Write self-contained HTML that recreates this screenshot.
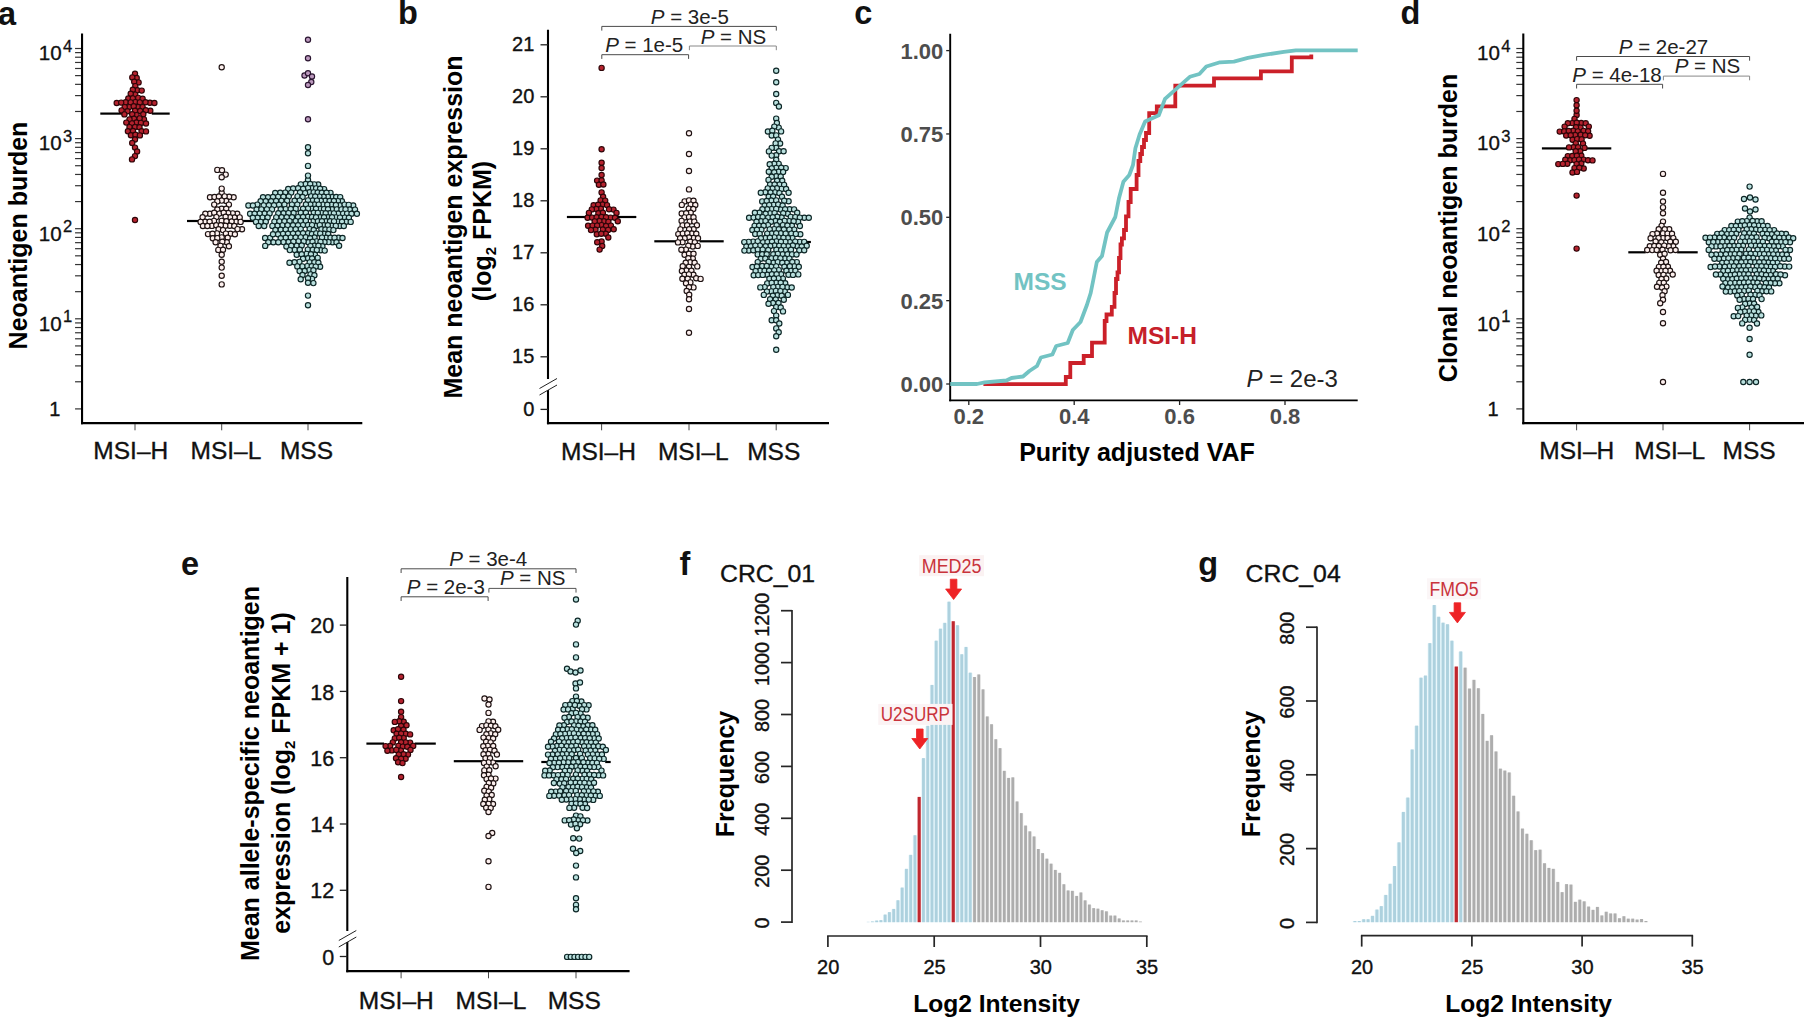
<!DOCTYPE html>
<html><head><meta charset="utf-8"><title>Figure</title>
<style>html,body{margin:0;padding:0;background:#fff}svg{display:block}</style></head>
<body>
<svg width="1804" height="1018" viewBox="0 0 1804 1018" font-family="&apos;Liberation Sans&apos;, sans-serif">
<rect width="1804" height="1018" fill="#fff"/>
<text x="-2.00" y="24.80" font-size="32.5" text-anchor="start" font-weight="bold" fill="#111" >a</text>
<text x="398.00" y="24.20" font-size="32.5" text-anchor="start" font-weight="bold" fill="#111" >b</text>
<text x="854.30" y="23.90" font-size="32.5" text-anchor="start" font-weight="bold" fill="#111" >c</text>
<text x="1400.50" y="23.70" font-size="32.5" text-anchor="start" font-weight="bold" fill="#111" >d</text>
<text x="181.00" y="575.40" font-size="32.5" text-anchor="start" font-weight="bold" fill="#111" >e</text>
<text x="679.60" y="574.90" font-size="32.5" text-anchor="start" font-weight="bold" fill="#111" >f</text>
<text x="1198.30" y="575.40" font-size="32.5" text-anchor="start" font-weight="bold" fill="#111" >g</text>
<line x1="75.05" y1="408.90" x2="82.05" y2="408.90" stroke="#333" stroke-width="1.2" stroke-linecap="butt"/>
<line x1="75.05" y1="381.78" x2="82.05" y2="381.78" stroke="#333" stroke-width="1.2" stroke-linecap="butt"/>
<line x1="75.05" y1="365.91" x2="82.05" y2="365.91" stroke="#333" stroke-width="1.2" stroke-linecap="butt"/>
<line x1="75.05" y1="354.65" x2="82.05" y2="354.65" stroke="#333" stroke-width="1.2" stroke-linecap="butt"/>
<line x1="75.05" y1="345.92" x2="82.05" y2="345.92" stroke="#333" stroke-width="1.2" stroke-linecap="butt"/>
<line x1="75.05" y1="338.79" x2="82.05" y2="338.79" stroke="#333" stroke-width="1.2" stroke-linecap="butt"/>
<line x1="75.05" y1="332.76" x2="82.05" y2="332.76" stroke="#333" stroke-width="1.2" stroke-linecap="butt"/>
<line x1="75.05" y1="327.53" x2="82.05" y2="327.53" stroke="#333" stroke-width="1.2" stroke-linecap="butt"/>
<line x1="75.05" y1="322.92" x2="82.05" y2="322.92" stroke="#333" stroke-width="1.2" stroke-linecap="butt"/>
<line x1="75.05" y1="318.80" x2="82.05" y2="318.80" stroke="#333" stroke-width="1.2" stroke-linecap="butt"/>
<line x1="75.05" y1="291.68" x2="82.05" y2="291.68" stroke="#333" stroke-width="1.2" stroke-linecap="butt"/>
<line x1="75.05" y1="275.81" x2="82.05" y2="275.81" stroke="#333" stroke-width="1.2" stroke-linecap="butt"/>
<line x1="75.05" y1="264.55" x2="82.05" y2="264.55" stroke="#333" stroke-width="1.2" stroke-linecap="butt"/>
<line x1="75.05" y1="255.82" x2="82.05" y2="255.82" stroke="#333" stroke-width="1.2" stroke-linecap="butt"/>
<line x1="75.05" y1="248.69" x2="82.05" y2="248.69" stroke="#333" stroke-width="1.2" stroke-linecap="butt"/>
<line x1="75.05" y1="242.66" x2="82.05" y2="242.66" stroke="#333" stroke-width="1.2" stroke-linecap="butt"/>
<line x1="75.05" y1="237.43" x2="82.05" y2="237.43" stroke="#333" stroke-width="1.2" stroke-linecap="butt"/>
<line x1="75.05" y1="232.82" x2="82.05" y2="232.82" stroke="#333" stroke-width="1.2" stroke-linecap="butt"/>
<line x1="75.05" y1="228.70" x2="82.05" y2="228.70" stroke="#333" stroke-width="1.2" stroke-linecap="butt"/>
<line x1="75.05" y1="201.58" x2="82.05" y2="201.58" stroke="#333" stroke-width="1.2" stroke-linecap="butt"/>
<line x1="75.05" y1="185.71" x2="82.05" y2="185.71" stroke="#333" stroke-width="1.2" stroke-linecap="butt"/>
<line x1="75.05" y1="174.45" x2="82.05" y2="174.45" stroke="#333" stroke-width="1.2" stroke-linecap="butt"/>
<line x1="75.05" y1="165.72" x2="82.05" y2="165.72" stroke="#333" stroke-width="1.2" stroke-linecap="butt"/>
<line x1="75.05" y1="158.59" x2="82.05" y2="158.59" stroke="#333" stroke-width="1.2" stroke-linecap="butt"/>
<line x1="75.05" y1="152.56" x2="82.05" y2="152.56" stroke="#333" stroke-width="1.2" stroke-linecap="butt"/>
<line x1="75.05" y1="147.33" x2="82.05" y2="147.33" stroke="#333" stroke-width="1.2" stroke-linecap="butt"/>
<line x1="75.05" y1="142.72" x2="82.05" y2="142.72" stroke="#333" stroke-width="1.2" stroke-linecap="butt"/>
<line x1="75.05" y1="138.60" x2="82.05" y2="138.60" stroke="#333" stroke-width="1.2" stroke-linecap="butt"/>
<line x1="75.05" y1="111.48" x2="82.05" y2="111.48" stroke="#333" stroke-width="1.2" stroke-linecap="butt"/>
<line x1="75.05" y1="95.61" x2="82.05" y2="95.61" stroke="#333" stroke-width="1.2" stroke-linecap="butt"/>
<line x1="75.05" y1="84.35" x2="82.05" y2="84.35" stroke="#333" stroke-width="1.2" stroke-linecap="butt"/>
<line x1="75.05" y1="75.62" x2="82.05" y2="75.62" stroke="#333" stroke-width="1.2" stroke-linecap="butt"/>
<line x1="75.05" y1="68.49" x2="82.05" y2="68.49" stroke="#333" stroke-width="1.2" stroke-linecap="butt"/>
<line x1="75.05" y1="62.46" x2="82.05" y2="62.46" stroke="#333" stroke-width="1.2" stroke-linecap="butt"/>
<line x1="75.05" y1="57.23" x2="82.05" y2="57.23" stroke="#333" stroke-width="1.2" stroke-linecap="butt"/>
<line x1="75.05" y1="52.62" x2="82.05" y2="52.62" stroke="#333" stroke-width="1.2" stroke-linecap="butt"/>
<line x1="75.05" y1="48.50" x2="82.05" y2="48.50" stroke="#333" stroke-width="1.2" stroke-linecap="butt"/>
<line x1="82.05" y1="33.50" x2="82.05" y2="424.30" stroke="#000" stroke-width="2.1" stroke-linecap="butt"/>
<line x1="81.00" y1="423.20" x2="362.30" y2="423.20" stroke="#000" stroke-width="2.2" stroke-linecap="butt"/>
<text x="60.30" y="416.10" font-size="20" text-anchor="end" stroke="#111" stroke-width="0.35" fill="#111" >1</text>
<text x="38.70" y="330.60" font-size="20.6" fill="#111" stroke="#111" stroke-width="0.3">10<tspan dy="-8.6" dx="1.3" font-size="16.6">1</tspan></text>
<text x="38.70" y="240.50" font-size="20.6" fill="#111" stroke="#111" stroke-width="0.3">10<tspan dy="-8.6" dx="1.3" font-size="16.6">2</tspan></text>
<text x="38.70" y="150.40" font-size="20.6" fill="#111" stroke="#111" stroke-width="0.3">10<tspan dy="-8.6" dx="1.3" font-size="16.6">3</tspan></text>
<text x="38.70" y="60.30" font-size="20.6" fill="#111" stroke="#111" stroke-width="0.3">10<tspan dy="-8.6" dx="1.3" font-size="16.6">4</tspan></text>
<line x1="135.00" y1="424.00" x2="135.00" y2="430.30" stroke="#333" stroke-width="0.9" stroke-linecap="butt"/>
<line x1="221.70" y1="424.00" x2="221.70" y2="430.30" stroke="#333" stroke-width="0.9" stroke-linecap="butt"/>
<line x1="308.00" y1="424.00" x2="308.00" y2="430.30" stroke="#333" stroke-width="0.9" stroke-linecap="butt"/>
<text x="130.80" y="459.30" font-size="24.5" text-anchor="middle" stroke="#111" stroke-width="0.35" fill="#111" >MSI–H</text>
<text x="225.90" y="459.30" font-size="24.5" text-anchor="middle" stroke="#111" stroke-width="0.35" fill="#111" >MSI–L</text>
<text x="306.50" y="459.30" font-size="24.5" text-anchor="middle" stroke="#111" stroke-width="0.35" fill="#111" >MSS</text>
<text x="26.70" y="235.50" font-size="25" text-anchor="middle" font-weight="bold" fill="#000" transform="rotate(-90 26.70 235.50)" >Neoantigen burden</text>
<line x1="100.3" y1="113.6" x2="122.9" y2="113.6" stroke="#000" stroke-width="2.2"/><line x1="151.8" y1="113.6" x2="169.7" y2="113.6" stroke="#000" stroke-width="2.2"/>
<line x1="187.0" y1="221.0" x2="199.1" y2="221.0" stroke="#000" stroke-width="2.2"/><line x1="242.1" y1="221.0" x2="256.4" y2="221.0" stroke="#000" stroke-width="2.2"/>

<g fill="#b5222e" stroke="#2e0508" stroke-width="1.15">
<circle cx="135.0" cy="73.8" r="2.62"/>
<circle cx="136.7" cy="78.0" r="2.62"/>
<circle cx="132.3" cy="77.4" r="2.62"/>
<circle cx="138.6" cy="82.4" r="2.62"/>
<circle cx="134.2" cy="81.7" r="2.62"/>
<circle cx="135.3" cy="86.1" r="2.62"/>
<circle cx="137.3" cy="90.2" r="2.62"/>
<circle cx="132.8" cy="89.8" r="2.62"/>
<circle cx="141.7" cy="90.6" r="2.62"/>
<circle cx="135.2" cy="94.6" r="2.62"/>
<circle cx="130.7" cy="93.8" r="2.62"/>
<circle cx="128.3" cy="98.5" r="2.62"/>
<circle cx="138.2" cy="97.9" r="2.62"/>
<circle cx="132.8" cy="98.4" r="2.62"/>
<circle cx="142.6" cy="98.8" r="2.62"/>
<circle cx="116.7" cy="103.0" r="2.62"/>
<circle cx="149.9" cy="102.8" r="2.62"/>
<circle cx="154.4" cy="103.0" r="2.62"/>
<circle cx="135.3" cy="102.1" r="2.62"/>
<circle cx="125.7" cy="102.2" r="2.62"/>
<circle cx="139.8" cy="102.4" r="2.62"/>
<circle cx="145.5" cy="102.3" r="2.62"/>
<circle cx="130.7" cy="102.4" r="2.62"/>
<circle cx="121.2" cy="102.6" r="2.62"/>
<circle cx="138.1" cy="107.0" r="2.62"/>
<circle cx="129.2" cy="107.1" r="2.62"/>
<circle cx="124.7" cy="107.1" r="2.62"/>
<circle cx="133.7" cy="106.2" r="2.62"/>
<circle cx="142.6" cy="107.1" r="2.62"/>
<circle cx="135.0" cy="110.8" r="2.62"/>
<circle cx="121.6" cy="110.4" r="2.62"/>
<circle cx="150.3" cy="110.8" r="2.62"/>
<circle cx="145.8" cy="110.2" r="2.62"/>
<circle cx="127.5" cy="111.2" r="2.62"/>
<circle cx="140.2" cy="111.0" r="2.62"/>
<circle cx="124.4" cy="114.4" r="2.62"/>
<circle cx="136.6" cy="115.1" r="2.62"/>
<circle cx="132.2" cy="114.3" r="2.62"/>
<circle cx="143.3" cy="114.3" r="2.62"/>
<circle cx="134.0" cy="118.7" r="2.62"/>
<circle cx="129.5" cy="119.4" r="2.62"/>
<circle cx="144.0" cy="119.4" r="2.62"/>
<circle cx="139.6" cy="118.4" r="2.62"/>
<circle cx="136.4" cy="122.5" r="2.62"/>
<circle cx="140.9" cy="122.9" r="2.62"/>
<circle cx="126.3" cy="122.6" r="2.62"/>
<circle cx="132.0" cy="123.4" r="2.62"/>
<circle cx="146.0" cy="123.5" r="2.62"/>
<circle cx="135.0" cy="127.0" r="2.62"/>
<circle cx="129.5" cy="127.1" r="2.62"/>
<circle cx="139.5" cy="127.2" r="2.62"/>
<circle cx="127.9" cy="131.3" r="2.62"/>
<circle cx="141.6" cy="131.2" r="2.62"/>
<circle cx="146.0" cy="131.4" r="2.62"/>
<circle cx="133.0" cy="131.0" r="2.62"/>
<circle cx="130.9" cy="135.3" r="2.62"/>
<circle cx="135.4" cy="134.8" r="2.62"/>
<circle cx="139.9" cy="135.4" r="2.62"/>
<circle cx="135.0" cy="139.5" r="2.62"/>
<circle cx="132.2" cy="143.0" r="2.62"/>
<circle cx="135.0" cy="147.6" r="2.62"/>
<circle cx="137.1" cy="151.5" r="2.62"/>
<circle cx="135.0" cy="156.1" r="2.62"/>
<circle cx="132.0" cy="159.4" r="2.62"/>
<circle cx="135.0" cy="220.0" r="2.62"/>
</g>
<g fill="#fdf0ee" stroke="#1e1212" stroke-width="1.15">
<circle cx="221.7" cy="193.0" r="2.62"/>
<circle cx="210.0" cy="197.3" r="2.62"/>
<circle cx="233.6" cy="197.3" r="2.62"/>
<circle cx="229.1" cy="196.8" r="2.62"/>
<circle cx="214.5" cy="197.0" r="2.62"/>
<circle cx="224.6" cy="196.4" r="2.62"/>
<circle cx="218.9" cy="196.5" r="2.62"/>
<circle cx="226.2" cy="201.0" r="2.62"/>
<circle cx="221.7" cy="200.6" r="2.62"/>
<circle cx="217.3" cy="201.4" r="2.62"/>
<circle cx="214.2" cy="204.6" r="2.62"/>
<circle cx="228.9" cy="204.6" r="2.62"/>
<circle cx="221.7" cy="208.7" r="2.62"/>
<circle cx="217.3" cy="209.5" r="2.62"/>
<circle cx="226.2" cy="208.8" r="2.62"/>
<circle cx="219.3" cy="213.6" r="2.62"/>
<circle cx="237.2" cy="213.7" r="2.62"/>
<circle cx="232.7" cy="213.4" r="2.62"/>
<circle cx="209.8" cy="213.7" r="2.62"/>
<circle cx="205.3" cy="213.7" r="2.62"/>
<circle cx="228.2" cy="213.0" r="2.62"/>
<circle cx="214.2" cy="212.8" r="2.62"/>
<circle cx="223.7" cy="212.7" r="2.62"/>
<circle cx="239.7" cy="217.4" r="2.62"/>
<circle cx="234.5" cy="217.5" r="2.62"/>
<circle cx="216.4" cy="217.1" r="2.62"/>
<circle cx="230.0" cy="217.3" r="2.62"/>
<circle cx="202.6" cy="217.3" r="2.62"/>
<circle cx="225.6" cy="216.8" r="2.62"/>
<circle cx="221.7" cy="220.9" r="2.62"/>
<circle cx="205.1" cy="221.8" r="2.62"/>
<circle cx="236.1" cy="221.7" r="2.62"/>
<circle cx="231.6" cy="221.5" r="2.62"/>
<circle cx="214.0" cy="220.9" r="2.62"/>
<circle cx="200.6" cy="221.9" r="2.62"/>
<circle cx="209.6" cy="221.7" r="2.62"/>
<circle cx="240.6" cy="221.9" r="2.62"/>
<circle cx="226.4" cy="221.2" r="2.62"/>
<circle cx="229.8" cy="225.8" r="2.62"/>
<circle cx="225.3" cy="225.8" r="2.62"/>
<circle cx="211.9" cy="225.9" r="2.62"/>
<circle cx="202.9" cy="226.0" r="2.62"/>
<circle cx="216.3" cy="225.3" r="2.62"/>
<circle cx="234.3" cy="226.0" r="2.62"/>
<circle cx="207.4" cy="226.0" r="2.62"/>
<circle cx="220.8" cy="225.3" r="2.62"/>
<circle cx="242.0" cy="229.2" r="2.62"/>
<circle cx="218.6" cy="229.2" r="2.62"/>
<circle cx="223.0" cy="230.1" r="2.62"/>
<circle cx="237.5" cy="229.1" r="2.62"/>
<circle cx="230.4" cy="233.7" r="2.62"/>
<circle cx="217.0" cy="233.4" r="2.62"/>
<circle cx="208.0" cy="234.1" r="2.62"/>
<circle cx="225.9" cy="233.6" r="2.62"/>
<circle cx="234.9" cy="234.2" r="2.62"/>
<circle cx="212.5" cy="233.7" r="2.62"/>
<circle cx="221.7" cy="237.4" r="2.62"/>
<circle cx="212.8" cy="238.3" r="2.62"/>
<circle cx="217.3" cy="238.1" r="2.62"/>
<circle cx="227.7" cy="237.7" r="2.62"/>
<circle cx="226.8" cy="242.3" r="2.62"/>
<circle cx="222.3" cy="241.8" r="2.62"/>
<circle cx="215.6" cy="242.3" r="2.62"/>
<circle cx="220.5" cy="245.9" r="2.62"/>
<circle cx="228.9" cy="246.3" r="2.62"/>
<circle cx="218.3" cy="249.9" r="2.62"/>
<circle cx="223.0" cy="249.7" r="2.62"/>
<circle cx="221.7" cy="254.7" r="2.62"/>
<circle cx="221.7" cy="67.2" r="2.62"/>
<circle cx="217.3" cy="169.9" r="2.62"/>
<circle cx="222.0" cy="170.3" r="2.62"/>
<circle cx="225.7" cy="174.6" r="2.62"/>
<circle cx="221.7" cy="177.2" r="2.62"/>
<circle cx="221.7" cy="188.6" r="2.62"/>
<circle cx="221.7" cy="261.7" r="2.62"/>
<circle cx="221.7" cy="267.6" r="2.62"/>
<circle cx="221.7" cy="275.8" r="2.62"/>
<circle cx="221.7" cy="284.4" r="2.62"/>
</g>
<g fill="#b9e0de" stroke="#0d2626" stroke-width="1.15">
<circle cx="308.0" cy="180.0" r="2.62"/>
<circle cx="305.7" cy="184.0" r="2.62"/>
<circle cx="300.8" cy="184.4" r="2.62"/>
<circle cx="318.2" cy="184.5" r="2.62"/>
<circle cx="314.2" cy="184.4" r="2.62"/>
<circle cx="310.2" cy="184.0" r="2.62"/>
<circle cx="288.2" cy="189.0" r="2.62"/>
<circle cx="312.0" cy="188.3" r="2.62"/>
<circle cx="324.1" cy="189.1" r="2.62"/>
<circle cx="293.1" cy="188.5" r="2.62"/>
<circle cx="308.0" cy="188.1" r="2.62"/>
<circle cx="316.1" cy="188.4" r="2.62"/>
<circle cx="298.1" cy="188.2" r="2.62"/>
<circle cx="303.1" cy="188.9" r="2.62"/>
<circle cx="320.1" cy="188.7" r="2.62"/>
<circle cx="285.2" cy="192.6" r="2.62"/>
<circle cx="309.6" cy="192.2" r="2.62"/>
<circle cx="313.7" cy="192.4" r="2.62"/>
<circle cx="291.2" cy="192.6" r="2.62"/>
<circle cx="280.2" cy="192.8" r="2.62"/>
<circle cx="317.7" cy="192.5" r="2.62"/>
<circle cx="330.5" cy="192.9" r="2.62"/>
<circle cx="321.8" cy="192.8" r="2.62"/>
<circle cx="305.1" cy="193.1" r="2.62"/>
<circle cx="300.0" cy="192.5" r="2.62"/>
<circle cx="297.5" cy="196.4" r="2.62"/>
<circle cx="275.2" cy="193.0" r="2.62"/>
<circle cx="326.5" cy="192.7" r="2.62"/>
<circle cx="332.2" cy="197.0" r="2.62"/>
<circle cx="327.9" cy="196.9" r="2.62"/>
<circle cx="288.8" cy="196.6" r="2.62"/>
<circle cx="278.1" cy="196.9" r="2.62"/>
<circle cx="323.6" cy="196.8" r="2.62"/>
<circle cx="268.0" cy="197.3" r="2.62"/>
<circle cx="302.6" cy="197.0" r="2.62"/>
<circle cx="273.0" cy="197.0" r="2.62"/>
<circle cx="263.0" cy="197.3" r="2.62"/>
<circle cx="319.4" cy="196.6" r="2.62"/>
<circle cx="336.2" cy="197.0" r="2.62"/>
<circle cx="283.4" cy="196.8" r="2.62"/>
<circle cx="311.1" cy="196.4" r="2.62"/>
<circle cx="340.2" cy="197.1" r="2.62"/>
<circle cx="315.2" cy="196.5" r="2.62"/>
<circle cx="265.7" cy="201.3" r="2.62"/>
<circle cx="325.3" cy="200.8" r="2.62"/>
<circle cx="341.9" cy="201.3" r="2.62"/>
<circle cx="271.1" cy="201.3" r="2.62"/>
<circle cx="320.8" cy="200.8" r="2.62"/>
<circle cx="260.6" cy="201.3" r="2.62"/>
<circle cx="312.7" cy="200.5" r="2.62"/>
<circle cx="299.6" cy="200.6" r="2.62"/>
<circle cx="281.4" cy="200.9" r="2.62"/>
<circle cx="316.9" cy="200.6" r="2.62"/>
<circle cx="287.1" cy="200.8" r="2.62"/>
<circle cx="329.6" cy="201.0" r="2.62"/>
<circle cx="337.9" cy="201.1" r="2.62"/>
<circle cx="276.1" cy="201.0" r="2.62"/>
<circle cx="308.0" cy="200.4" r="2.62"/>
<circle cx="268.9" cy="205.3" r="2.62"/>
<circle cx="339.8" cy="205.3" r="2.62"/>
<circle cx="294.6" cy="200.8" r="2.62"/>
<circle cx="333.9" cy="201.0" r="2.62"/>
<circle cx="314.5" cy="204.5" r="2.62"/>
<circle cx="257.3" cy="204.6" r="2.62"/>
<circle cx="310.3" cy="204.5" r="2.62"/>
<circle cx="344.6" cy="204.6" r="2.62"/>
<circle cx="331.6" cy="204.8" r="2.62"/>
<circle cx="263.7" cy="205.4" r="2.62"/>
<circle cx="284.4" cy="204.6" r="2.62"/>
<circle cx="279.0" cy="204.8" r="2.62"/>
<circle cx="323.0" cy="204.6" r="2.62"/>
<circle cx="248.4" cy="205.5" r="2.62"/>
<circle cx="335.9" cy="205.0" r="2.62"/>
<circle cx="291.9" cy="204.6" r="2.62"/>
<circle cx="327.3" cy="204.7" r="2.62"/>
<circle cx="318.7" cy="204.6" r="2.62"/>
<circle cx="252.9" cy="205.5" r="2.62"/>
<circle cx="297.3" cy="204.6" r="2.62"/>
<circle cx="305.9" cy="204.5" r="2.62"/>
<circle cx="353.2" cy="205.5" r="2.62"/>
<circle cx="332.1" cy="209.3" r="2.62"/>
<circle cx="348.7" cy="204.9" r="2.62"/>
<circle cx="274.0" cy="205.3" r="2.62"/>
<circle cx="272.0" cy="209.4" r="2.62"/>
<circle cx="312.0" cy="208.8" r="2.62"/>
<circle cx="256.6" cy="209.6" r="2.62"/>
<circle cx="261.4" cy="209.4" r="2.62"/>
<circle cx="336.8" cy="209.4" r="2.62"/>
<circle cx="285.7" cy="209.1" r="2.62"/>
<circle cx="308.0" cy="208.6" r="2.62"/>
<circle cx="295.7" cy="208.9" r="2.62"/>
<circle cx="280.7" cy="209.3" r="2.62"/>
<circle cx="290.7" cy="209.0" r="2.62"/>
<circle cx="355.0" cy="209.6" r="2.62"/>
<circle cx="320.0" cy="209.0" r="2.62"/>
<circle cx="316.0" cy="208.8" r="2.62"/>
<circle cx="303.0" cy="208.8" r="2.62"/>
<circle cx="349.7" cy="209.5" r="2.62"/>
<circle cx="324.0" cy="209.1" r="2.62"/>
<circle cx="266.9" cy="209.4" r="2.62"/>
<circle cx="328.0" cy="209.3" r="2.62"/>
<circle cx="338.3" cy="213.5" r="2.62"/>
<circle cx="283.5" cy="213.2" r="2.62"/>
<circle cx="341.5" cy="209.4" r="2.62"/>
<circle cx="345.5" cy="209.4" r="2.62"/>
<circle cx="321.8" cy="213.1" r="2.62"/>
<circle cx="356.9" cy="213.7" r="2.62"/>
<circle cx="313.8" cy="212.8" r="2.62"/>
<circle cx="300.8" cy="212.8" r="2.62"/>
<circle cx="264.6" cy="213.5" r="2.62"/>
<circle cx="343.1" cy="213.6" r="2.62"/>
<circle cx="269.6" cy="213.4" r="2.62"/>
<circle cx="329.9" cy="213.3" r="2.62"/>
<circle cx="305.9" cy="212.7" r="2.62"/>
<circle cx="333.9" cy="213.4" r="2.62"/>
<circle cx="250.1" cy="213.7" r="2.62"/>
<circle cx="259.6" cy="213.6" r="2.62"/>
<circle cx="317.8" cy="212.9" r="2.62"/>
<circle cx="293.6" cy="213.0" r="2.62"/>
<circle cx="278.3" cy="213.3" r="2.62"/>
<circle cx="288.5" cy="213.1" r="2.62"/>
<circle cx="254.6" cy="213.7" r="2.62"/>
<circle cx="325.7" cy="213.2" r="2.62"/>
<circle cx="347.1" cy="213.6" r="2.62"/>
<circle cx="351.5" cy="213.7" r="2.62"/>
<circle cx="281.6" cy="217.3" r="2.62"/>
<circle cx="308.0" cy="216.8" r="2.62"/>
<circle cx="312.0" cy="217.0" r="2.62"/>
<circle cx="344.8" cy="217.6" r="2.62"/>
<circle cx="320.0" cy="217.3" r="2.62"/>
<circle cx="276.2" cy="217.4" r="2.62"/>
<circle cx="328.0" cy="217.3" r="2.62"/>
<circle cx="262.5" cy="217.6" r="2.62"/>
<circle cx="336.0" cy="217.4" r="2.62"/>
<circle cx="298.0" cy="217.1" r="2.62"/>
<circle cx="324.0" cy="217.3" r="2.62"/>
<circle cx="340.0" cy="217.6" r="2.62"/>
<circle cx="292.0" cy="217.2" r="2.62"/>
<circle cx="286.7" cy="217.3" r="2.62"/>
<circle cx="267.6" cy="217.5" r="2.62"/>
<circle cx="332.0" cy="217.3" r="2.62"/>
<circle cx="348.9" cy="217.8" r="2.62"/>
<circle cx="257.5" cy="217.7" r="2.62"/>
<circle cx="295.7" cy="221.1" r="2.62"/>
<circle cx="252.8" cy="217.8" r="2.62"/>
<circle cx="313.7" cy="221.0" r="2.62"/>
<circle cx="316.0" cy="217.2" r="2.62"/>
<circle cx="303.0" cy="217.0" r="2.62"/>
<circle cx="274.4" cy="221.6" r="2.62"/>
<circle cx="346.2" cy="221.8" r="2.62"/>
<circle cx="338.0" cy="221.6" r="2.62"/>
<circle cx="300.7" cy="221.0" r="2.62"/>
<circle cx="350.7" cy="221.9" r="2.62"/>
<circle cx="260.8" cy="221.9" r="2.62"/>
<circle cx="279.4" cy="221.4" r="2.62"/>
<circle cx="342.0" cy="221.8" r="2.62"/>
<circle cx="284.5" cy="221.3" r="2.62"/>
<circle cx="326.0" cy="221.2" r="2.62"/>
<circle cx="317.9" cy="221.2" r="2.62"/>
<circle cx="305.9" cy="220.9" r="2.62"/>
<circle cx="330.0" cy="221.3" r="2.62"/>
<circle cx="321.9" cy="221.2" r="2.62"/>
<circle cx="334.0" cy="221.4" r="2.62"/>
<circle cx="256.0" cy="221.9" r="2.62"/>
<circle cx="315.9" cy="226.0" r="2.62"/>
<circle cx="289.6" cy="221.1" r="2.62"/>
<circle cx="265.8" cy="221.7" r="2.62"/>
<circle cx="303.0" cy="225.1" r="2.62"/>
<circle cx="339.8" cy="226.0" r="2.62"/>
<circle cx="323.8" cy="225.2" r="2.62"/>
<circle cx="343.8" cy="226.0" r="2.62"/>
<circle cx="331.8" cy="225.7" r="2.62"/>
<circle cx="308.0" cy="225.0" r="2.62"/>
<circle cx="282.4" cy="225.4" r="2.62"/>
<circle cx="258.7" cy="226.0" r="2.62"/>
<circle cx="277.4" cy="225.8" r="2.62"/>
<circle cx="272.4" cy="225.9" r="2.62"/>
<circle cx="335.8" cy="225.9" r="2.62"/>
<circle cx="327.8" cy="225.3" r="2.62"/>
<circle cx="264.2" cy="226.0" r="2.62"/>
<circle cx="312.0" cy="225.1" r="2.62"/>
<circle cx="293.0" cy="225.2" r="2.62"/>
<circle cx="319.8" cy="225.1" r="2.62"/>
<circle cx="298.0" cy="225.2" r="2.62"/>
<circle cx="287.6" cy="225.3" r="2.62"/>
<circle cx="290.7" cy="229.4" r="2.62"/>
<circle cx="321.4" cy="229.2" r="2.62"/>
<circle cx="300.7" cy="229.1" r="2.62"/>
<circle cx="309.7" cy="229.1" r="2.62"/>
<circle cx="280.7" cy="229.7" r="2.62"/>
<circle cx="285.7" cy="229.6" r="2.62"/>
<circle cx="295.7" cy="229.2" r="2.62"/>
<circle cx="325.4" cy="229.5" r="2.62"/>
<circle cx="275.4" cy="230.0" r="2.62"/>
<circle cx="329.4" cy="229.6" r="2.62"/>
<circle cx="333.4" cy="230.1" r="2.62"/>
<circle cx="313.7" cy="230.0" r="2.62"/>
<circle cx="324.2" cy="233.8" r="2.62"/>
<circle cx="298.0" cy="233.5" r="2.62"/>
<circle cx="308.0" cy="233.3" r="2.62"/>
<circle cx="328.2" cy="234.0" r="2.62"/>
<circle cx="303.0" cy="233.3" r="2.62"/>
<circle cx="311.9" cy="234.1" r="2.62"/>
<circle cx="283.0" cy="233.9" r="2.62"/>
<circle cx="316.2" cy="233.4" r="2.62"/>
<circle cx="288.0" cy="233.7" r="2.62"/>
<circle cx="293.0" cy="233.6" r="2.62"/>
<circle cx="278.0" cy="234.2" r="2.62"/>
<circle cx="270.1" cy="237.9" r="2.62"/>
<circle cx="273.0" cy="234.2" r="2.62"/>
<circle cx="290.7" cy="237.6" r="2.62"/>
<circle cx="320.2" cy="233.6" r="2.62"/>
<circle cx="285.7" cy="237.8" r="2.62"/>
<circle cx="326.1" cy="237.8" r="2.62"/>
<circle cx="295.7" cy="237.5" r="2.62"/>
<circle cx="330.5" cy="237.7" r="2.62"/>
<circle cx="305.7" cy="237.3" r="2.62"/>
<circle cx="314.5" cy="237.5" r="2.62"/>
<circle cx="338.5" cy="237.8" r="2.62"/>
<circle cx="265.1" cy="238.0" r="2.62"/>
<circle cx="280.7" cy="238.2" r="2.62"/>
<circle cx="322.0" cy="237.6" r="2.62"/>
<circle cx="300.7" cy="237.4" r="2.62"/>
<circle cx="342.5" cy="238.0" r="2.62"/>
<circle cx="310.1" cy="238.2" r="2.62"/>
<circle cx="288.4" cy="242.0" r="2.62"/>
<circle cx="332.5" cy="242.2" r="2.62"/>
<circle cx="334.5" cy="237.8" r="2.62"/>
<circle cx="273.3" cy="242.3" r="2.62"/>
<circle cx="308.4" cy="242.3" r="2.62"/>
<circle cx="268.3" cy="242.3" r="2.62"/>
<circle cx="328.5" cy="242.1" r="2.62"/>
<circle cx="316.6" cy="241.4" r="2.62"/>
<circle cx="312.5" cy="241.7" r="2.62"/>
<circle cx="336.5" cy="242.3" r="2.62"/>
<circle cx="324.5" cy="242.0" r="2.62"/>
<circle cx="283.4" cy="242.1" r="2.62"/>
<circle cx="303.6" cy="241.4" r="2.62"/>
<circle cx="278.3" cy="242.2" r="2.62"/>
<circle cx="320.5" cy="241.9" r="2.62"/>
<circle cx="298.4" cy="241.4" r="2.62"/>
<circle cx="296.7" cy="245.7" r="2.62"/>
<circle cx="293.4" cy="241.6" r="2.62"/>
<circle cx="314.4" cy="245.7" r="2.62"/>
<circle cx="286.4" cy="246.5" r="2.62"/>
<circle cx="265.2" cy="245.9" r="2.62"/>
<circle cx="322.4" cy="246.2" r="2.62"/>
<circle cx="310.4" cy="246.1" r="2.62"/>
<circle cx="301.7" cy="245.5" r="2.62"/>
<circle cx="291.3" cy="245.7" r="2.62"/>
<circle cx="318.4" cy="245.8" r="2.62"/>
<circle cx="307.8" cy="249.6" r="2.62"/>
<circle cx="339.1" cy="245.7" r="2.62"/>
<circle cx="320.7" cy="250.3" r="2.62"/>
<circle cx="294.8" cy="249.9" r="2.62"/>
<circle cx="289.8" cy="250.1" r="2.62"/>
<circle cx="299.8" cy="249.7" r="2.62"/>
<circle cx="312.8" cy="249.8" r="2.62"/>
<circle cx="324.7" cy="250.6" r="2.62"/>
<circle cx="316.8" cy="250.1" r="2.62"/>
<circle cx="296.7" cy="254.7" r="2.62"/>
<circle cx="306.6" cy="253.9" r="2.62"/>
<circle cx="314.9" cy="254.7" r="2.62"/>
<circle cx="301.7" cy="254.3" r="2.62"/>
<circle cx="310.9" cy="254.2" r="2.62"/>
<circle cx="317.7" cy="257.9" r="2.62"/>
<circle cx="308.0" cy="258.3" r="2.62"/>
<circle cx="312.1" cy="258.5" r="2.62"/>
<circle cx="303.0" cy="258.7" r="2.62"/>
<circle cx="299.4" cy="261.9" r="2.62"/>
<circle cx="309.7" cy="262.4" r="2.62"/>
<circle cx="314.4" cy="262.2" r="2.62"/>
<circle cx="294.5" cy="262.2" r="2.62"/>
<circle cx="289.5" cy="262.8" r="2.62"/>
<circle cx="318.4" cy="262.7" r="2.62"/>
<circle cx="307.2" cy="266.1" r="2.62"/>
<circle cx="320.1" cy="266.7" r="2.62"/>
<circle cx="311.7" cy="266.3" r="2.62"/>
<circle cx="302.3" cy="266.4" r="2.62"/>
<circle cx="315.7" cy="266.6" r="2.62"/>
<circle cx="297.3" cy="266.4" r="2.62"/>
<circle cx="309.2" cy="270.1" r="2.62"/>
<circle cx="304.6" cy="271.0" r="2.62"/>
<circle cx="299.6" cy="271.1" r="2.62"/>
<circle cx="313.4" cy="270.3" r="2.62"/>
<circle cx="310.5" cy="274.4" r="2.62"/>
<circle cx="314.4" cy="275.2" r="2.62"/>
<circle cx="302.5" cy="275.0" r="2.62"/>
<circle cx="300.7" cy="279.3" r="2.62"/>
<circle cx="312.0" cy="278.9" r="2.62"/>
<circle cx="308.0" cy="278.3" r="2.62"/>
<circle cx="308.0" cy="282.8" r="2.62"/>
<circle cx="313.4" cy="283.1" r="2.62"/>
<circle cx="308.0" cy="147.3" r="2.62"/>
<circle cx="308.0" cy="153.2" r="2.62"/>
<circle cx="308.0" cy="165.9" r="2.62"/>
<circle cx="308.0" cy="175.6" r="2.62"/>
<circle cx="308.0" cy="295.6" r="2.62"/>
<circle cx="308.0" cy="305.3" r="2.62"/>
</g>
<g fill="#bb98bd" stroke="#2a1530" stroke-width="1.15">
<circle cx="308.0" cy="39.7" r="2.62"/>
<circle cx="308.0" cy="58.3" r="2.62"/>
<circle cx="304.5" cy="75.5" r="2.62"/>
<circle cx="308.0" cy="73.3" r="2.62"/>
<circle cx="312.0" cy="76.5" r="2.62"/>
<circle cx="311.3" cy="82.0" r="2.62"/>
<circle cx="308.0" cy="85.0" r="2.62"/>
<circle cx="308.0" cy="119.3" r="2.62"/>
</g>
<line x1="1516.30" y1="408.90" x2="1523.30" y2="408.90" stroke="#333" stroke-width="1.2" stroke-linecap="butt"/>
<line x1="1516.30" y1="381.78" x2="1523.30" y2="381.78" stroke="#333" stroke-width="1.2" stroke-linecap="butt"/>
<line x1="1516.30" y1="365.91" x2="1523.30" y2="365.91" stroke="#333" stroke-width="1.2" stroke-linecap="butt"/>
<line x1="1516.30" y1="354.65" x2="1523.30" y2="354.65" stroke="#333" stroke-width="1.2" stroke-linecap="butt"/>
<line x1="1516.30" y1="345.92" x2="1523.30" y2="345.92" stroke="#333" stroke-width="1.2" stroke-linecap="butt"/>
<line x1="1516.30" y1="338.79" x2="1523.30" y2="338.79" stroke="#333" stroke-width="1.2" stroke-linecap="butt"/>
<line x1="1516.30" y1="332.76" x2="1523.30" y2="332.76" stroke="#333" stroke-width="1.2" stroke-linecap="butt"/>
<line x1="1516.30" y1="327.53" x2="1523.30" y2="327.53" stroke="#333" stroke-width="1.2" stroke-linecap="butt"/>
<line x1="1516.30" y1="322.92" x2="1523.30" y2="322.92" stroke="#333" stroke-width="1.2" stroke-linecap="butt"/>
<line x1="1516.30" y1="318.80" x2="1523.30" y2="318.80" stroke="#333" stroke-width="1.2" stroke-linecap="butt"/>
<line x1="1516.30" y1="291.68" x2="1523.30" y2="291.68" stroke="#333" stroke-width="1.2" stroke-linecap="butt"/>
<line x1="1516.30" y1="275.81" x2="1523.30" y2="275.81" stroke="#333" stroke-width="1.2" stroke-linecap="butt"/>
<line x1="1516.30" y1="264.55" x2="1523.30" y2="264.55" stroke="#333" stroke-width="1.2" stroke-linecap="butt"/>
<line x1="1516.30" y1="255.82" x2="1523.30" y2="255.82" stroke="#333" stroke-width="1.2" stroke-linecap="butt"/>
<line x1="1516.30" y1="248.69" x2="1523.30" y2="248.69" stroke="#333" stroke-width="1.2" stroke-linecap="butt"/>
<line x1="1516.30" y1="242.66" x2="1523.30" y2="242.66" stroke="#333" stroke-width="1.2" stroke-linecap="butt"/>
<line x1="1516.30" y1="237.43" x2="1523.30" y2="237.43" stroke="#333" stroke-width="1.2" stroke-linecap="butt"/>
<line x1="1516.30" y1="232.82" x2="1523.30" y2="232.82" stroke="#333" stroke-width="1.2" stroke-linecap="butt"/>
<line x1="1516.30" y1="228.70" x2="1523.30" y2="228.70" stroke="#333" stroke-width="1.2" stroke-linecap="butt"/>
<line x1="1516.30" y1="201.58" x2="1523.30" y2="201.58" stroke="#333" stroke-width="1.2" stroke-linecap="butt"/>
<line x1="1516.30" y1="185.71" x2="1523.30" y2="185.71" stroke="#333" stroke-width="1.2" stroke-linecap="butt"/>
<line x1="1516.30" y1="174.45" x2="1523.30" y2="174.45" stroke="#333" stroke-width="1.2" stroke-linecap="butt"/>
<line x1="1516.30" y1="165.72" x2="1523.30" y2="165.72" stroke="#333" stroke-width="1.2" stroke-linecap="butt"/>
<line x1="1516.30" y1="158.59" x2="1523.30" y2="158.59" stroke="#333" stroke-width="1.2" stroke-linecap="butt"/>
<line x1="1516.30" y1="152.56" x2="1523.30" y2="152.56" stroke="#333" stroke-width="1.2" stroke-linecap="butt"/>
<line x1="1516.30" y1="147.33" x2="1523.30" y2="147.33" stroke="#333" stroke-width="1.2" stroke-linecap="butt"/>
<line x1="1516.30" y1="142.72" x2="1523.30" y2="142.72" stroke="#333" stroke-width="1.2" stroke-linecap="butt"/>
<line x1="1516.30" y1="138.60" x2="1523.30" y2="138.60" stroke="#333" stroke-width="1.2" stroke-linecap="butt"/>
<line x1="1516.30" y1="111.48" x2="1523.30" y2="111.48" stroke="#333" stroke-width="1.2" stroke-linecap="butt"/>
<line x1="1516.30" y1="95.61" x2="1523.30" y2="95.61" stroke="#333" stroke-width="1.2" stroke-linecap="butt"/>
<line x1="1516.30" y1="84.35" x2="1523.30" y2="84.35" stroke="#333" stroke-width="1.2" stroke-linecap="butt"/>
<line x1="1516.30" y1="75.62" x2="1523.30" y2="75.62" stroke="#333" stroke-width="1.2" stroke-linecap="butt"/>
<line x1="1516.30" y1="68.49" x2="1523.30" y2="68.49" stroke="#333" stroke-width="1.2" stroke-linecap="butt"/>
<line x1="1516.30" y1="62.46" x2="1523.30" y2="62.46" stroke="#333" stroke-width="1.2" stroke-linecap="butt"/>
<line x1="1516.30" y1="57.23" x2="1523.30" y2="57.23" stroke="#333" stroke-width="1.2" stroke-linecap="butt"/>
<line x1="1516.30" y1="52.62" x2="1523.30" y2="52.62" stroke="#333" stroke-width="1.2" stroke-linecap="butt"/>
<line x1="1516.30" y1="48.50" x2="1523.30" y2="48.50" stroke="#333" stroke-width="1.2" stroke-linecap="butt"/>
<line x1="1523.30" y1="33.50" x2="1523.30" y2="424.30" stroke="#000" stroke-width="2.1" stroke-linecap="butt"/>
<line x1="1522.25" y1="423.20" x2="1804.00" y2="423.20" stroke="#000" stroke-width="2.2" stroke-linecap="butt"/>
<text x="1498.60" y="416.10" font-size="20" text-anchor="end" stroke="#111" stroke-width="0.35" fill="#111" >1</text>
<text x="1477.00" y="330.60" font-size="20.6" fill="#111" stroke="#111" stroke-width="0.3">10<tspan dy="-8.6" dx="1.3" font-size="16.6">1</tspan></text>
<text x="1477.00" y="240.50" font-size="20.6" fill="#111" stroke="#111" stroke-width="0.3">10<tspan dy="-8.6" dx="1.3" font-size="16.6">2</tspan></text>
<text x="1477.00" y="150.40" font-size="20.6" fill="#111" stroke="#111" stroke-width="0.3">10<tspan dy="-8.6" dx="1.3" font-size="16.6">3</tspan></text>
<text x="1477.00" y="60.30" font-size="20.6" fill="#111" stroke="#111" stroke-width="0.3">10<tspan dy="-8.6" dx="1.3" font-size="16.6">4</tspan></text>
<line x1="1576.60" y1="424.00" x2="1576.60" y2="430.30" stroke="#333" stroke-width="0.9" stroke-linecap="butt"/>
<line x1="1663.00" y1="424.00" x2="1663.00" y2="430.30" stroke="#333" stroke-width="0.9" stroke-linecap="butt"/>
<line x1="1749.60" y1="424.00" x2="1749.60" y2="430.30" stroke="#333" stroke-width="0.9" stroke-linecap="butt"/>
<text x="1576.80" y="459.40" font-size="24.5" text-anchor="middle" stroke="#111" stroke-width="0.35" fill="#111" >MSI–H</text>
<text x="1669.70" y="459.40" font-size="24.5" text-anchor="middle" stroke="#111" stroke-width="0.35" fill="#111" >MSI–L</text>
<text x="1749.10" y="459.40" font-size="24.5" text-anchor="middle" stroke="#111" stroke-width="0.35" fill="#111" >MSS</text>
<text x="1457.00" y="228.00" font-size="25" text-anchor="middle" font-weight="bold" fill="#000" transform="rotate(-90 1457.00 228.00)" >Clonal neoantigen burden</text>
<line x1="1541.9" y1="148.4" x2="1567.5" y2="148.4" stroke="#000" stroke-width="2.2"/><line x1="1586.0" y1="148.4" x2="1611.3" y2="148.4" stroke="#000" stroke-width="2.2"/>
<line x1="1628.3" y1="252.3" x2="1645.7" y2="252.3" stroke="#000" stroke-width="2.2"/><line x1="1677.1" y1="252.3" x2="1697.7" y2="252.3" stroke="#000" stroke-width="2.2"/>

<path d="M1576.6 60.7V56.5H1749.6V60.7" stroke="#4a4a4a" stroke-width="1.0" fill="none" />
<text x="1663.50" y="54.20" font-size="20.5" text-anchor="middle" fill="#222"><tspan font-style="italic">P</tspan> = 2e-27</text>
<path d="M1576.6 88.5V84.3H1662.6V88.5" stroke="#4a4a4a" stroke-width="1.0" fill="none" />
<text x="1617.00" y="82.00" font-size="20.5" text-anchor="middle" fill="#222"><tspan font-style="italic">P</tspan> = 4e-18</text>
<path d="M1663.4 80.3V76.1H1749.6V80.3" stroke="#888" stroke-width="1.0" fill="none" />
<text x="1707.50" y="73.00" font-size="20.5" text-anchor="middle" fill="#222"><tspan font-style="italic">P</tspan> = NS</text>
<g fill="#b5222e" stroke="#2e0508" stroke-width="1.15">
<circle cx="1576.6" cy="114.9" r="2.62"/>
<circle cx="1574.5" cy="118.9" r="2.62"/>
<circle cx="1572.2" cy="123.1" r="2.62"/>
<circle cx="1581.2" cy="123.0" r="2.62"/>
<circle cx="1585.7" cy="123.3" r="2.62"/>
<circle cx="1576.7" cy="122.8" r="2.62"/>
<circle cx="1567.8" cy="123.3" r="2.62"/>
<circle cx="1588.8" cy="126.6" r="2.62"/>
<circle cx="1580.5" cy="127.6" r="2.62"/>
<circle cx="1576.0" cy="127.2" r="2.62"/>
<circle cx="1564.6" cy="126.6" r="2.62"/>
<circle cx="1573.2" cy="130.7" r="2.62"/>
<circle cx="1583.6" cy="130.9" r="2.62"/>
<circle cx="1588.1" cy="131.2" r="2.62"/>
<circle cx="1559.7" cy="131.6" r="2.62"/>
<circle cx="1577.8" cy="131.4" r="2.62"/>
<circle cx="1564.2" cy="131.4" r="2.62"/>
<circle cx="1568.7" cy="131.0" r="2.62"/>
<circle cx="1589.6" cy="135.8" r="2.62"/>
<circle cx="1566.2" cy="135.5" r="2.62"/>
<circle cx="1575.2" cy="135.0" r="2.62"/>
<circle cx="1580.7" cy="134.8" r="2.62"/>
<circle cx="1585.2" cy="135.2" r="2.62"/>
<circle cx="1570.7" cy="135.2" r="2.62"/>
<circle cx="1572.6" cy="139.8" r="2.62"/>
<circle cx="1577.1" cy="139.1" r="2.62"/>
<circle cx="1581.6" cy="139.4" r="2.62"/>
<circle cx="1575.8" cy="143.4" r="2.62"/>
<circle cx="1583.0" cy="143.6" r="2.62"/>
<circle cx="1573.5" cy="147.3" r="2.62"/>
<circle cx="1569.0" cy="147.4" r="2.62"/>
<circle cx="1584.5" cy="147.9" r="2.62"/>
<circle cx="1578.0" cy="147.3" r="2.62"/>
<circle cx="1580.2" cy="151.2" r="2.62"/>
<circle cx="1575.7" cy="151.3" r="2.62"/>
<circle cx="1581.3" cy="155.7" r="2.62"/>
<circle cx="1567.8" cy="156.1" r="2.62"/>
<circle cx="1572.3" cy="156.0" r="2.62"/>
<circle cx="1576.8" cy="155.7" r="2.62"/>
<circle cx="1583.5" cy="159.6" r="2.62"/>
<circle cx="1570.0" cy="160.2" r="2.62"/>
<circle cx="1588.0" cy="160.3" r="2.62"/>
<circle cx="1565.3" cy="159.8" r="2.62"/>
<circle cx="1574.5" cy="160.1" r="2.62"/>
<circle cx="1592.5" cy="160.4" r="2.62"/>
<circle cx="1579.0" cy="159.6" r="2.62"/>
<circle cx="1567.3" cy="163.8" r="2.62"/>
<circle cx="1581.3" cy="163.5" r="2.62"/>
<circle cx="1576.6" cy="164.1" r="2.62"/>
<circle cx="1558.3" cy="164.1" r="2.62"/>
<circle cx="1562.8" cy="163.9" r="2.62"/>
<circle cx="1574.5" cy="168.1" r="2.62"/>
<circle cx="1583.7" cy="168.5" r="2.62"/>
<circle cx="1579.3" cy="167.7" r="2.62"/>
<circle cx="1572.5" cy="172.5" r="2.62"/>
<circle cx="1577.0" cy="171.9" r="2.62"/>
<circle cx="1576.6" cy="100.1" r="2.62"/>
<circle cx="1576.6" cy="105.3" r="2.62"/>
<circle cx="1576.6" cy="110.7" r="2.62"/>
<circle cx="1576.6" cy="195.6" r="2.62"/>
<circle cx="1576.6" cy="248.6" r="2.62"/>
</g>
<g fill="#fdf0ee" stroke="#1e1212" stroke-width="1.15">
<circle cx="1663.0" cy="221.6" r="2.62"/>
<circle cx="1661.6" cy="225.9" r="2.62"/>
<circle cx="1669.2" cy="229.3" r="2.62"/>
<circle cx="1658.7" cy="229.3" r="2.62"/>
<circle cx="1664.7" cy="229.2" r="2.62"/>
<circle cx="1663.0" cy="233.4" r="2.62"/>
<circle cx="1667.5" cy="233.6" r="2.62"/>
<circle cx="1672.0" cy="233.8" r="2.62"/>
<circle cx="1657.0" cy="233.5" r="2.62"/>
<circle cx="1652.5" cy="234.1" r="2.62"/>
<circle cx="1673.3" cy="238.1" r="2.62"/>
<circle cx="1663.0" cy="238.1" r="2.62"/>
<circle cx="1667.6" cy="238.1" r="2.62"/>
<circle cx="1650.6" cy="238.2" r="2.62"/>
<circle cx="1658.5" cy="238.1" r="2.62"/>
<circle cx="1670.2" cy="241.8" r="2.62"/>
<circle cx="1675.8" cy="241.8" r="2.62"/>
<circle cx="1655.6" cy="241.5" r="2.62"/>
<circle cx="1661.3" cy="242.2" r="2.62"/>
<circle cx="1673.2" cy="246.2" r="2.62"/>
<circle cx="1649.8" cy="246.3" r="2.62"/>
<circle cx="1668.7" cy="246.2" r="2.62"/>
<circle cx="1664.2" cy="245.6" r="2.62"/>
<circle cx="1654.3" cy="246.0" r="2.62"/>
<circle cx="1658.8" cy="246.0" r="2.62"/>
<circle cx="1647.2" cy="250.0" r="2.62"/>
<circle cx="1652.2" cy="250.1" r="2.62"/>
<circle cx="1662.5" cy="249.8" r="2.62"/>
<circle cx="1656.7" cy="250.0" r="2.62"/>
<circle cx="1670.6" cy="250.3" r="2.62"/>
<circle cx="1675.6" cy="250.0" r="2.62"/>
<circle cx="1660.2" cy="254.7" r="2.62"/>
<circle cx="1664.6" cy="253.8" r="2.62"/>
<circle cx="1663.0" cy="258.7" r="2.62"/>
<circle cx="1666.0" cy="262.0" r="2.62"/>
<circle cx="1661.2" cy="262.8" r="2.62"/>
<circle cx="1667.9" cy="266.8" r="2.62"/>
<circle cx="1658.9" cy="266.9" r="2.62"/>
<circle cx="1663.4" cy="266.7" r="2.62"/>
<circle cx="1661.1" cy="271.1" r="2.62"/>
<circle cx="1670.0" cy="270.8" r="2.62"/>
<circle cx="1656.6" cy="270.7" r="2.62"/>
<circle cx="1665.5" cy="270.7" r="2.62"/>
<circle cx="1658.7" cy="275.0" r="2.62"/>
<circle cx="1672.7" cy="274.5" r="2.62"/>
<circle cx="1663.5" cy="274.9" r="2.62"/>
<circle cx="1666.2" cy="278.5" r="2.62"/>
<circle cx="1661.5" cy="279.0" r="2.62"/>
<circle cx="1659.3" cy="282.9" r="2.62"/>
<circle cx="1663.8" cy="282.8" r="2.62"/>
<circle cx="1666.4" cy="286.6" r="2.62"/>
<circle cx="1662.0" cy="287.5" r="2.62"/>
<circle cx="1657.0" cy="286.8" r="2.62"/>
<circle cx="1664.6" cy="291.2" r="2.62"/>
<circle cx="1662.5" cy="295.2" r="2.62"/>
<circle cx="1663.0" cy="299.7" r="2.62"/>
<circle cx="1660.2" cy="303.2" r="2.62"/>
<circle cx="1663.0" cy="173.9" r="2.62"/>
<circle cx="1663.0" cy="192.8" r="2.62"/>
<circle cx="1663.0" cy="201.5" r="2.62"/>
<circle cx="1663.0" cy="207.4" r="2.62"/>
<circle cx="1663.0" cy="213.3" r="2.62"/>
<circle cx="1663.0" cy="312.0" r="2.62"/>
<circle cx="1663.0" cy="323.3" r="2.62"/>
<circle cx="1663.0" cy="382.0" r="2.62"/>
</g>
<g fill="#b9e0de" stroke="#0d2626" stroke-width="1.15">
<circle cx="1749.6" cy="217.6" r="2.62"/>
<circle cx="1757.1" cy="221.2" r="2.62"/>
<circle cx="1737.8" cy="221.6" r="2.62"/>
<circle cx="1752.6" cy="221.0" r="2.62"/>
<circle cx="1761.6" cy="221.3" r="2.62"/>
<circle cx="1746.8" cy="221.1" r="2.62"/>
<circle cx="1742.3" cy="221.2" r="2.62"/>
<circle cx="1767.6" cy="226.0" r="2.62"/>
<circle cx="1731.4" cy="226.0" r="2.62"/>
<circle cx="1740.4" cy="225.8" r="2.62"/>
<circle cx="1749.6" cy="225.1" r="2.62"/>
<circle cx="1758.6" cy="225.6" r="2.62"/>
<circle cx="1744.8" cy="225.2" r="2.62"/>
<circle cx="1763.1" cy="225.9" r="2.62"/>
<circle cx="1754.1" cy="225.3" r="2.62"/>
<circle cx="1735.9" cy="226.0" r="2.62"/>
<circle cx="1724.7" cy="230.1" r="2.62"/>
<circle cx="1765.1" cy="229.9" r="2.62"/>
<circle cx="1729.2" cy="230.1" r="2.62"/>
<circle cx="1755.8" cy="229.5" r="2.62"/>
<circle cx="1738.4" cy="229.9" r="2.62"/>
<circle cx="1774.1" cy="230.1" r="2.62"/>
<circle cx="1760.3" cy="229.9" r="2.62"/>
<circle cx="1751.2" cy="229.3" r="2.62"/>
<circle cx="1769.6" cy="230.1" r="2.62"/>
<circle cx="1746.7" cy="229.4" r="2.62"/>
<circle cx="1733.7" cy="229.9" r="2.62"/>
<circle cx="1736.2" cy="233.8" r="2.62"/>
<circle cx="1762.6" cy="233.8" r="2.62"/>
<circle cx="1717.2" cy="233.9" r="2.62"/>
<circle cx="1721.7" cy="233.5" r="2.62"/>
<circle cx="1727.1" cy="234.1" r="2.62"/>
<circle cx="1749.5" cy="233.4" r="2.62"/>
<circle cx="1786.0" cy="234.0" r="2.62"/>
<circle cx="1753.9" cy="233.7" r="2.62"/>
<circle cx="1781.5" cy="233.8" r="2.62"/>
<circle cx="1777.1" cy="233.5" r="2.62"/>
<circle cx="1771.6" cy="234.2" r="2.62"/>
<circle cx="1744.2" cy="233.2" r="2.62"/>
<circle cx="1731.6" cy="233.9" r="2.62"/>
<circle cx="1767.1" cy="234.0" r="2.62"/>
<circle cx="1783.8" cy="237.9" r="2.62"/>
<circle cx="1724.0" cy="237.5" r="2.62"/>
<circle cx="1774.8" cy="237.4" r="2.62"/>
<circle cx="1714.5" cy="237.5" r="2.62"/>
<circle cx="1719.6" cy="237.8" r="2.62"/>
<circle cx="1769.1" cy="238.3" r="2.62"/>
<circle cx="1747.1" cy="237.3" r="2.62"/>
<circle cx="1742.5" cy="237.4" r="2.62"/>
<circle cx="1729.6" cy="238.2" r="2.62"/>
<circle cx="1705.5" cy="237.7" r="2.62"/>
<circle cx="1756.5" cy="237.3" r="2.62"/>
<circle cx="1788.8" cy="237.5" r="2.62"/>
<circle cx="1751.6" cy="237.5" r="2.62"/>
<circle cx="1710.0" cy="237.6" r="2.62"/>
<circle cx="1734.1" cy="237.8" r="2.62"/>
<circle cx="1764.6" cy="237.8" r="2.62"/>
<circle cx="1779.3" cy="237.8" r="2.62"/>
<circle cx="1793.2" cy="238.3" r="2.62"/>
<circle cx="1758.3" cy="241.6" r="2.62"/>
<circle cx="1753.8" cy="241.6" r="2.62"/>
<circle cx="1749.3" cy="241.4" r="2.62"/>
<circle cx="1717.8" cy="242.0" r="2.62"/>
<circle cx="1708.8" cy="242.3" r="2.62"/>
<circle cx="1713.3" cy="242.0" r="2.62"/>
<circle cx="1781.0" cy="242.0" r="2.62"/>
<circle cx="1726.9" cy="241.8" r="2.62"/>
<circle cx="1790.0" cy="242.2" r="2.62"/>
<circle cx="1771.9" cy="241.7" r="2.62"/>
<circle cx="1722.4" cy="241.9" r="2.62"/>
<circle cx="1744.8" cy="241.6" r="2.62"/>
<circle cx="1785.5" cy="242.1" r="2.62"/>
<circle cx="1776.4" cy="241.8" r="2.62"/>
<circle cx="1762.8" cy="241.9" r="2.62"/>
<circle cx="1732.2" cy="241.9" r="2.62"/>
<circle cx="1740.3" cy="241.6" r="2.62"/>
<circle cx="1782.7" cy="246.4" r="2.62"/>
<circle cx="1778.2" cy="246.3" r="2.62"/>
<circle cx="1755.4" cy="245.7" r="2.62"/>
<circle cx="1773.7" cy="246.2" r="2.62"/>
<circle cx="1764.7" cy="246.0" r="2.62"/>
<circle cx="1725.0" cy="246.1" r="2.62"/>
<circle cx="1751.0" cy="245.6" r="2.62"/>
<circle cx="1716.0" cy="246.4" r="2.62"/>
<circle cx="1734.0" cy="246.0" r="2.62"/>
<circle cx="1743.0" cy="245.7" r="2.62"/>
<circle cx="1711.5" cy="246.4" r="2.62"/>
<circle cx="1738.5" cy="245.9" r="2.62"/>
<circle cx="1769.2" cy="246.0" r="2.62"/>
<circle cx="1729.5" cy="246.0" r="2.62"/>
<circle cx="1759.9" cy="245.8" r="2.62"/>
<circle cx="1775.8" cy="250.5" r="2.62"/>
<circle cx="1790.0" cy="250.0" r="2.62"/>
<circle cx="1720.5" cy="246.3" r="2.62"/>
<circle cx="1771.3" cy="250.4" r="2.62"/>
<circle cx="1748.9" cy="249.6" r="2.62"/>
<circle cx="1708.7" cy="249.9" r="2.62"/>
<circle cx="1766.9" cy="249.9" r="2.62"/>
<circle cx="1741.2" cy="249.8" r="2.62"/>
<circle cx="1785.5" cy="249.9" r="2.62"/>
<circle cx="1762.1" cy="249.8" r="2.62"/>
<circle cx="1736.4" cy="249.9" r="2.62"/>
<circle cx="1731.8" cy="250.0" r="2.62"/>
<circle cx="1722.8" cy="250.6" r="2.62"/>
<circle cx="1757.6" cy="249.7" r="2.62"/>
<circle cx="1727.3" cy="250.0" r="2.62"/>
<circle cx="1759.6" cy="254.1" r="2.62"/>
<circle cx="1777.8" cy="254.5" r="2.62"/>
<circle cx="1768.6" cy="254.3" r="2.62"/>
<circle cx="1730.4" cy="254.2" r="2.62"/>
<circle cx="1782.3" cy="254.5" r="2.62"/>
<circle cx="1786.8" cy="254.7" r="2.62"/>
<circle cx="1725.9" cy="254.3" r="2.62"/>
<circle cx="1773.3" cy="254.4" r="2.62"/>
<circle cx="1734.8" cy="254.1" r="2.62"/>
<circle cx="1720.5" cy="254.5" r="2.62"/>
<circle cx="1716.0" cy="254.5" r="2.62"/>
<circle cx="1755.1" cy="253.9" r="2.62"/>
<circle cx="1746.1" cy="253.9" r="2.62"/>
<circle cx="1750.6" cy="253.8" r="2.62"/>
<circle cx="1764.1" cy="254.1" r="2.62"/>
<circle cx="1732.9" cy="258.2" r="2.62"/>
<circle cx="1711.5" cy="254.7" r="2.62"/>
<circle cx="1739.6" cy="254.0" r="2.62"/>
<circle cx="1737.7" cy="258.1" r="2.62"/>
<circle cx="1723.9" cy="258.6" r="2.62"/>
<circle cx="1718.9" cy="258.7" r="2.62"/>
<circle cx="1770.6" cy="258.3" r="2.62"/>
<circle cx="1744.0" cy="257.9" r="2.62"/>
<circle cx="1714.4" cy="258.7" r="2.62"/>
<circle cx="1779.7" cy="258.6" r="2.62"/>
<circle cx="1753.1" cy="258.0" r="2.62"/>
<circle cx="1784.2" cy="258.7" r="2.62"/>
<circle cx="1766.1" cy="258.2" r="2.62"/>
<circle cx="1748.6" cy="257.8" r="2.62"/>
<circle cx="1788.8" cy="258.7" r="2.62"/>
<circle cx="1761.6" cy="258.1" r="2.62"/>
<circle cx="1728.4" cy="258.4" r="2.62"/>
<circle cx="1775.2" cy="258.5" r="2.62"/>
<circle cx="1736.1" cy="262.3" r="2.62"/>
<circle cx="1754.8" cy="262.2" r="2.62"/>
<circle cx="1722.2" cy="262.9" r="2.62"/>
<circle cx="1745.8" cy="262.1" r="2.62"/>
<circle cx="1741.3" cy="262.2" r="2.62"/>
<circle cx="1777.3" cy="262.9" r="2.62"/>
<circle cx="1768.3" cy="262.5" r="2.62"/>
<circle cx="1731.2" cy="262.4" r="2.62"/>
<circle cx="1726.7" cy="262.6" r="2.62"/>
<circle cx="1772.8" cy="262.9" r="2.62"/>
<circle cx="1763.8" cy="262.3" r="2.62"/>
<circle cx="1750.3" cy="262.0" r="2.62"/>
<circle cx="1770.5" cy="266.8" r="2.62"/>
<circle cx="1759.3" cy="262.3" r="2.62"/>
<circle cx="1775.0" cy="266.9" r="2.62"/>
<circle cx="1739.2" cy="266.2" r="2.62"/>
<circle cx="1710.6" cy="267.0" r="2.62"/>
<circle cx="1784.7" cy="266.5" r="2.62"/>
<circle cx="1729.3" cy="266.4" r="2.62"/>
<circle cx="1719.5" cy="266.5" r="2.62"/>
<circle cx="1756.9" cy="266.2" r="2.62"/>
<circle cx="1766.0" cy="266.5" r="2.62"/>
<circle cx="1761.5" cy="266.2" r="2.62"/>
<circle cx="1743.8" cy="266.1" r="2.62"/>
<circle cx="1748.4" cy="266.0" r="2.62"/>
<circle cx="1789.2" cy="266.6" r="2.62"/>
<circle cx="1780.2" cy="266.3" r="2.62"/>
<circle cx="1733.9" cy="266.2" r="2.62"/>
<circle cx="1724.8" cy="266.8" r="2.62"/>
<circle cx="1715.0" cy="266.5" r="2.62"/>
<circle cx="1723.3" cy="271.1" r="2.62"/>
<circle cx="1759.4" cy="270.4" r="2.62"/>
<circle cx="1772.9" cy="271.0" r="2.62"/>
<circle cx="1768.4" cy="270.9" r="2.62"/>
<circle cx="1763.9" cy="270.5" r="2.62"/>
<circle cx="1736.9" cy="270.4" r="2.62"/>
<circle cx="1732.4" cy="270.6" r="2.62"/>
<circle cx="1750.4" cy="270.1" r="2.62"/>
<circle cx="1754.9" cy="270.2" r="2.62"/>
<circle cx="1741.4" cy="270.2" r="2.62"/>
<circle cx="1727.9" cy="270.7" r="2.62"/>
<circle cx="1756.9" cy="274.2" r="2.62"/>
<circle cx="1745.9" cy="270.2" r="2.62"/>
<circle cx="1761.6" cy="274.3" r="2.62"/>
<circle cx="1730.4" cy="275.0" r="2.62"/>
<circle cx="1725.9" cy="275.1" r="2.62"/>
<circle cx="1785.0" cy="275.2" r="2.62"/>
<circle cx="1776.0" cy="274.3" r="2.62"/>
<circle cx="1780.5" cy="274.5" r="2.62"/>
<circle cx="1720.4" cy="274.5" r="2.62"/>
<circle cx="1743.8" cy="274.2" r="2.62"/>
<circle cx="1748.5" cy="274.2" r="2.62"/>
<circle cx="1770.5" cy="275.1" r="2.62"/>
<circle cx="1715.9" cy="274.5" r="2.62"/>
<circle cx="1766.0" cy="275.0" r="2.62"/>
<circle cx="1739.3" cy="274.3" r="2.62"/>
<circle cx="1734.9" cy="274.5" r="2.62"/>
<circle cx="1768.3" cy="279.0" r="2.62"/>
<circle cx="1763.8" cy="279.0" r="2.62"/>
<circle cx="1754.8" cy="278.3" r="2.62"/>
<circle cx="1750.3" cy="278.3" r="2.62"/>
<circle cx="1727.9" cy="279.3" r="2.62"/>
<circle cx="1759.3" cy="278.5" r="2.62"/>
<circle cx="1723.2" cy="278.7" r="2.62"/>
<circle cx="1732.4" cy="279.1" r="2.62"/>
<circle cx="1745.8" cy="278.3" r="2.62"/>
<circle cx="1773.2" cy="278.7" r="2.62"/>
<circle cx="1736.8" cy="278.5" r="2.62"/>
<circle cx="1777.7" cy="278.8" r="2.62"/>
<circle cx="1741.3" cy="278.4" r="2.62"/>
<circle cx="1779.4" cy="283.3" r="2.62"/>
<circle cx="1725.4" cy="283.1" r="2.62"/>
<circle cx="1774.9" cy="283.2" r="2.62"/>
<circle cx="1753.0" cy="282.5" r="2.62"/>
<circle cx="1735.0" cy="282.9" r="2.62"/>
<circle cx="1739.5" cy="282.8" r="2.62"/>
<circle cx="1770.4" cy="283.0" r="2.62"/>
<circle cx="1744.0" cy="282.5" r="2.62"/>
<circle cx="1748.5" cy="282.4" r="2.62"/>
<circle cx="1730.3" cy="283.1" r="2.62"/>
<circle cx="1757.5" cy="282.8" r="2.62"/>
<circle cx="1765.9" cy="283.0" r="2.62"/>
<circle cx="1760.0" cy="286.5" r="2.62"/>
<circle cx="1728.0" cy="287.5" r="2.62"/>
<circle cx="1754.9" cy="287.1" r="2.62"/>
<circle cx="1737.0" cy="287.2" r="2.62"/>
<circle cx="1764.5" cy="287.3" r="2.62"/>
<circle cx="1741.5" cy="287.2" r="2.62"/>
<circle cx="1732.5" cy="287.4" r="2.62"/>
<circle cx="1769.0" cy="287.5" r="2.62"/>
<circle cx="1722.5" cy="286.5" r="2.62"/>
<circle cx="1746.0" cy="287.0" r="2.62"/>
<circle cx="1730.3" cy="291.6" r="2.62"/>
<circle cx="1750.4" cy="286.5" r="2.62"/>
<circle cx="1761.9" cy="291.3" r="2.62"/>
<circle cx="1757.4" cy="290.9" r="2.62"/>
<circle cx="1766.5" cy="291.3" r="2.62"/>
<circle cx="1725.8" cy="291.6" r="2.62"/>
<circle cx="1744.0" cy="291.1" r="2.62"/>
<circle cx="1734.8" cy="291.3" r="2.62"/>
<circle cx="1771.2" cy="291.4" r="2.62"/>
<circle cx="1748.8" cy="290.6" r="2.62"/>
<circle cx="1739.3" cy="291.1" r="2.62"/>
<circle cx="1741.7" cy="294.9" r="2.62"/>
<circle cx="1755.0" cy="294.9" r="2.62"/>
<circle cx="1759.5" cy="295.2" r="2.62"/>
<circle cx="1737.3" cy="295.5" r="2.62"/>
<circle cx="1750.5" cy="294.8" r="2.62"/>
<circle cx="1744.0" cy="299.0" r="2.62"/>
<circle cx="1748.5" cy="298.9" r="2.62"/>
<circle cx="1761.6" cy="299.1" r="2.62"/>
<circle cx="1753.0" cy="299.0" r="2.62"/>
<circle cx="1739.6" cy="299.7" r="2.62"/>
<circle cx="1749.6" cy="303.5" r="2.62"/>
<circle cx="1745.1" cy="303.9" r="2.62"/>
<circle cx="1754.1" cy="303.7" r="2.62"/>
<circle cx="1742.3" cy="307.4" r="2.62"/>
<circle cx="1751.6" cy="307.5" r="2.62"/>
<circle cx="1737.9" cy="307.9" r="2.62"/>
<circle cx="1757.1" cy="307.0" r="2.62"/>
<circle cx="1749.2" cy="311.4" r="2.62"/>
<circle cx="1744.7" cy="311.5" r="2.62"/>
<circle cx="1758.4" cy="312.0" r="2.62"/>
<circle cx="1753.9" cy="311.4" r="2.62"/>
<circle cx="1740.3" cy="312.1" r="2.62"/>
<circle cx="1733.7" cy="316.2" r="2.62"/>
<circle cx="1761.3" cy="315.4" r="2.62"/>
<circle cx="1738.2" cy="316.1" r="2.62"/>
<circle cx="1755.7" cy="315.8" r="2.62"/>
<circle cx="1751.2" cy="315.4" r="2.62"/>
<circle cx="1746.7" cy="315.6" r="2.62"/>
<circle cx="1749.6" cy="319.6" r="2.62"/>
<circle cx="1745.1" cy="319.9" r="2.62"/>
<circle cx="1754.1" cy="320.1" r="2.62"/>
<circle cx="1757.0" cy="323.5" r="2.62"/>
<circle cx="1742.2" cy="323.4" r="2.62"/>
<circle cx="1749.6" cy="327.8" r="2.62"/>
<circle cx="1749.6" cy="186.6" r="2.62"/>
<circle cx="1744.0" cy="199.0" r="2.62"/>
<circle cx="1750.0" cy="197.5" r="2.62"/>
<circle cx="1755.5" cy="199.5" r="2.62"/>
<circle cx="1745.0" cy="208.5" r="2.62"/>
<circle cx="1750.0" cy="211.5" r="2.62"/>
<circle cx="1755.5" cy="209.5" r="2.62"/>
<circle cx="1749.6" cy="339.0" r="2.62"/>
<circle cx="1749.6" cy="354.8" r="2.62"/>
<circle cx="1743.3" cy="382.0" r="2.62"/>
<circle cx="1749.6" cy="382.0" r="2.62"/>
<circle cx="1756.0" cy="382.0" r="2.62"/>
</g>
<line x1="548.00" y1="29.70" x2="548.00" y2="424.30" stroke="#000" stroke-width="2.1" stroke-linecap="butt"/>
<line x1="546.95" y1="423.20" x2="829.00" y2="423.20" stroke="#000" stroke-width="2.2" stroke-linecap="butt"/>
<line x1="540.50" y1="356.80" x2="548.00" y2="356.80" stroke="#222" stroke-width="1.3" stroke-linecap="butt"/>
<text x="534.30" y="363.20" font-size="20" text-anchor="end" stroke="#111" stroke-width="0.35" fill="#111" >15</text>
<line x1="540.50" y1="304.80" x2="548.00" y2="304.80" stroke="#222" stroke-width="1.3" stroke-linecap="butt"/>
<text x="534.30" y="311.20" font-size="20" text-anchor="end" stroke="#111" stroke-width="0.35" fill="#111" >16</text>
<line x1="540.50" y1="252.80" x2="548.00" y2="252.80" stroke="#222" stroke-width="1.3" stroke-linecap="butt"/>
<text x="534.30" y="259.20" font-size="20" text-anchor="end" stroke="#111" stroke-width="0.35" fill="#111" >17</text>
<line x1="540.50" y1="200.80" x2="548.00" y2="200.80" stroke="#222" stroke-width="1.3" stroke-linecap="butt"/>
<text x="534.30" y="207.20" font-size="20" text-anchor="end" stroke="#111" stroke-width="0.35" fill="#111" >18</text>
<line x1="540.50" y1="148.80" x2="548.00" y2="148.80" stroke="#222" stroke-width="1.3" stroke-linecap="butt"/>
<text x="534.30" y="155.20" font-size="20" text-anchor="end" stroke="#111" stroke-width="0.35" fill="#111" >19</text>
<line x1="540.50" y1="96.80" x2="548.00" y2="96.80" stroke="#222" stroke-width="1.3" stroke-linecap="butt"/>
<text x="534.30" y="103.20" font-size="20" text-anchor="end" stroke="#111" stroke-width="0.35" fill="#111" >20</text>
<line x1="540.50" y1="44.80" x2="548.00" y2="44.80" stroke="#222" stroke-width="1.3" stroke-linecap="butt"/>
<text x="534.30" y="51.20" font-size="20" text-anchor="end" stroke="#111" stroke-width="0.35" fill="#111" >21</text>
<line x1="540.50" y1="409.40" x2="548.00" y2="409.40" stroke="#222" stroke-width="1.3" stroke-linecap="butt"/>
<text x="534.30" y="415.90" font-size="20" text-anchor="end" stroke="#111" stroke-width="0.35" fill="#111" >0</text>
<rect x="540" y="379" width="16" height="11" fill="#fff"/>
<line x1="539.50" y1="388.50" x2="557.00" y2="378.50" stroke="#222" stroke-width="1" stroke-linecap="butt"/>
<line x1="539.50" y1="395.00" x2="557.00" y2="385.00" stroke="#222" stroke-width="1" stroke-linecap="butt"/>
<line x1="601.60" y1="424.00" x2="601.60" y2="430.30" stroke="#333" stroke-width="0.9" stroke-linecap="butt"/>
<line x1="689.00" y1="424.00" x2="689.00" y2="430.30" stroke="#333" stroke-width="0.9" stroke-linecap="butt"/>
<line x1="776.20" y1="424.00" x2="776.20" y2="430.30" stroke="#333" stroke-width="0.9" stroke-linecap="butt"/>
<text x="598.50" y="459.90" font-size="24.5" text-anchor="middle" stroke="#111" stroke-width="0.35" fill="#111" >MSI–H</text>
<text x="693.30" y="459.90" font-size="24.5" text-anchor="middle" stroke="#111" stroke-width="0.35" fill="#111" >MSI–L</text>
<text x="773.70" y="459.90" font-size="24.5" text-anchor="middle" stroke="#111" stroke-width="0.35" fill="#111" >MSS</text>
<text x="461.60" y="227.00" font-size="25" text-anchor="middle" font-weight="bold" fill="#000" transform="rotate(-90 461.60 227.00)" >Mean neoantigen expression</text>
<text x="491" y="231" font-size="25" text-anchor="middle" font-weight="bold" fill="#000" transform="rotate(-90 491 231)">(log<tspan font-size="15" dy="4.5">2</tspan><tspan dy="-4.5"> FPKM)</tspan></text>
<line x1="566.9" y1="217.0" x2="586.1" y2="217.0" stroke="#000" stroke-width="2.2"/><line x1="616.5" y1="217.0" x2="636.3" y2="217.0" stroke="#000" stroke-width="2.2"/>
<line x1="654.3" y1="241.3" x2="676.5" y2="241.3" stroke="#000" stroke-width="2.2"/><line x1="699.5" y1="241.3" x2="723.7" y2="241.3" stroke="#000" stroke-width="2.2"/>
<line x1="741.5" y1="242.0" x2="742.8" y2="242.0" stroke="#000" stroke-width="2.2"/><line x1="805.7" y1="242.0" x2="810.9" y2="242.0" stroke="#000" stroke-width="2.2"/>
<path d="M601.8 30.6V26.4H776.3V30.6" stroke="#4a4a4a" stroke-width="1.0" fill="none" />
<text x="689.80" y="23.60" font-size="20.5" text-anchor="middle" fill="#222"><tspan font-style="italic">P</tspan> = 3e-5</text>
<path d="M601.8 58.9V54.7H688.6V58.9" stroke="#4a4a4a" stroke-width="1.0" fill="none" />
<text x="644.20" y="51.90" font-size="20.5" text-anchor="middle" fill="#222"><tspan font-style="italic">P</tspan> = 1e-5</text>
<path d="M689.4 50.2V46.0H776.3V50.2" stroke="#888" stroke-width="1.0" fill="none" />
<text x="733.40" y="43.60" font-size="20.5" text-anchor="middle" fill="#222"><tspan font-style="italic">P</tspan> = NS</text>
<g fill="#b5222e" stroke="#2e0508" stroke-width="1.15">
<circle cx="597.1" cy="180.6" r="2.62"/>
<circle cx="601.6" cy="180.4" r="2.62"/>
<circle cx="598.9" cy="184.8" r="2.62"/>
<circle cx="603.4" cy="184.5" r="2.62"/>
<circle cx="601.6" cy="192.4" r="2.62"/>
<circle cx="603.1" cy="196.7" r="2.62"/>
<circle cx="600.6" cy="200.4" r="2.62"/>
<circle cx="605.2" cy="200.6" r="2.62"/>
<circle cx="602.5" cy="204.5" r="2.62"/>
<circle cx="593.6" cy="205.3" r="2.62"/>
<circle cx="607.0" cy="205.1" r="2.62"/>
<circle cx="598.1" cy="204.8" r="2.62"/>
<circle cx="600.9" cy="208.7" r="2.62"/>
<circle cx="596.3" cy="209.0" r="2.62"/>
<circle cx="591.8" cy="209.4" r="2.62"/>
<circle cx="613.5" cy="209.6" r="2.62"/>
<circle cx="609.0" cy="209.2" r="2.62"/>
<circle cx="598.4" cy="213.2" r="2.62"/>
<circle cx="602.9" cy="212.7" r="2.62"/>
<circle cx="616.5" cy="212.9" r="2.62"/>
<circle cx="588.9" cy="212.9" r="2.62"/>
<circle cx="587.6" cy="217.7" r="2.62"/>
<circle cx="592.1" cy="217.6" r="2.62"/>
<circle cx="610.5" cy="217.6" r="2.62"/>
<circle cx="596.6" cy="217.3" r="2.62"/>
<circle cx="601.5" cy="217.0" r="2.62"/>
<circle cx="615.0" cy="217.7" r="2.62"/>
<circle cx="606.0" cy="217.2" r="2.62"/>
<circle cx="603.9" cy="221.3" r="2.62"/>
<circle cx="617.8" cy="221.3" r="2.62"/>
<circle cx="599.4" cy="221.0" r="2.62"/>
<circle cx="608.4" cy="221.9" r="2.62"/>
<circle cx="594.7" cy="221.4" r="2.62"/>
<circle cx="588.1" cy="225.8" r="2.62"/>
<circle cx="592.6" cy="225.6" r="2.62"/>
<circle cx="610.9" cy="225.6" r="2.62"/>
<circle cx="601.6" cy="225.1" r="2.62"/>
<circle cx="606.0" cy="226.0" r="2.62"/>
<circle cx="597.1" cy="225.6" r="2.62"/>
<circle cx="613.7" cy="229.2" r="2.62"/>
<circle cx="608.1" cy="229.9" r="2.62"/>
<circle cx="602.8" cy="229.5" r="2.62"/>
<circle cx="595.5" cy="229.8" r="2.62"/>
<circle cx="591.0" cy="230.1" r="2.62"/>
<circle cx="596.8" cy="234.2" r="2.62"/>
<circle cx="605.8" cy="233.8" r="2.62"/>
<circle cx="601.3" cy="233.7" r="2.62"/>
<circle cx="608.3" cy="237.5" r="2.62"/>
<circle cx="601.6" cy="241.5" r="2.62"/>
<circle cx="597.2" cy="242.2" r="2.62"/>
<circle cx="602.2" cy="246.0" r="2.62"/>
<circle cx="599.6" cy="249.6" r="2.62"/>
<circle cx="601.6" cy="67.9" r="2.62"/>
<circle cx="601.6" cy="149.3" r="2.62"/>
<circle cx="601.6" cy="162.7" r="2.62"/>
<circle cx="601.6" cy="168.0" r="2.62"/>
<circle cx="601.6" cy="175.0" r="2.62"/>
</g>
<g fill="#fdf0ee" stroke="#1e1212" stroke-width="1.15">
<circle cx="684.6" cy="201.4" r="2.62"/>
<circle cx="689.0" cy="200.4" r="2.62"/>
<circle cx="693.5" cy="200.8" r="2.62"/>
<circle cx="690.7" cy="204.6" r="2.62"/>
<circle cx="681.8" cy="204.9" r="2.62"/>
<circle cx="695.3" cy="205.0" r="2.62"/>
<circle cx="688.8" cy="208.6" r="2.62"/>
<circle cx="693.3" cy="209.0" r="2.62"/>
<circle cx="681.7" cy="213.5" r="2.62"/>
<circle cx="690.7" cy="212.7" r="2.62"/>
<circle cx="686.2" cy="213.3" r="2.62"/>
<circle cx="684.5" cy="217.4" r="2.62"/>
<circle cx="689.0" cy="217.1" r="2.62"/>
<circle cx="693.5" cy="217.2" r="2.62"/>
<circle cx="689.8" cy="221.6" r="2.62"/>
<circle cx="681.6" cy="220.9" r="2.62"/>
<circle cx="694.3" cy="221.6" r="2.62"/>
<circle cx="682.6" cy="225.4" r="2.62"/>
<circle cx="687.1" cy="225.2" r="2.62"/>
<circle cx="696.9" cy="225.3" r="2.62"/>
<circle cx="693.6" cy="229.3" r="2.62"/>
<circle cx="689.1" cy="229.2" r="2.62"/>
<circle cx="680.4" cy="229.4" r="2.62"/>
<circle cx="678.3" cy="234.1" r="2.62"/>
<circle cx="682.8" cy="233.6" r="2.62"/>
<circle cx="691.8" cy="233.5" r="2.62"/>
<circle cx="696.3" cy="233.8" r="2.62"/>
<circle cx="687.3" cy="233.3" r="2.62"/>
<circle cx="693.5" cy="238.0" r="2.62"/>
<circle cx="689.0" cy="237.5" r="2.62"/>
<circle cx="684.6" cy="238.3" r="2.62"/>
<circle cx="698.0" cy="238.3" r="2.62"/>
<circle cx="680.1" cy="238.3" r="2.62"/>
<circle cx="690.3" cy="241.8" r="2.62"/>
<circle cx="682.5" cy="242.2" r="2.62"/>
<circle cx="678.0" cy="242.4" r="2.62"/>
<circle cx="694.8" cy="242.4" r="2.62"/>
<circle cx="692.8" cy="246.5" r="2.62"/>
<circle cx="688.3" cy="245.8" r="2.62"/>
<circle cx="697.7" cy="245.9" r="2.62"/>
<circle cx="685.9" cy="249.6" r="2.62"/>
<circle cx="681.4" cy="249.8" r="2.62"/>
<circle cx="684.6" cy="254.7" r="2.62"/>
<circle cx="689.0" cy="253.8" r="2.62"/>
<circle cx="693.5" cy="253.8" r="2.62"/>
<circle cx="692.8" cy="258.6" r="2.62"/>
<circle cx="688.3" cy="258.2" r="2.62"/>
<circle cx="690.1" cy="262.3" r="2.62"/>
<circle cx="685.7" cy="262.8" r="2.62"/>
<circle cx="694.6" cy="262.8" r="2.62"/>
<circle cx="697.3" cy="266.4" r="2.62"/>
<circle cx="689.0" cy="266.9" r="2.62"/>
<circle cx="682.7" cy="266.2" r="2.62"/>
<circle cx="686.4" cy="270.5" r="2.62"/>
<circle cx="691.4" cy="270.7" r="2.62"/>
<circle cx="681.9" cy="271.0" r="2.62"/>
<circle cx="684.5" cy="274.8" r="2.62"/>
<circle cx="693.4" cy="274.8" r="2.62"/>
<circle cx="688.9" cy="274.4" r="2.62"/>
<circle cx="696.2" cy="278.3" r="2.62"/>
<circle cx="682.4" cy="278.8" r="2.62"/>
<circle cx="700.6" cy="278.9" r="2.62"/>
<circle cx="687.7" cy="278.7" r="2.62"/>
<circle cx="690.4" cy="282.4" r="2.62"/>
<circle cx="686.0" cy="283.2" r="2.62"/>
<circle cx="693.5" cy="287.4" r="2.62"/>
<circle cx="689.0" cy="287.2" r="2.62"/>
<circle cx="686.7" cy="291.0" r="2.62"/>
<circle cx="689.2" cy="294.7" r="2.62"/>
<circle cx="689.0" cy="299.3" r="2.62"/>
<circle cx="689.0" cy="133.3" r="2.62"/>
<circle cx="689.0" cy="154.0" r="2.62"/>
<circle cx="689.0" cy="171.0" r="2.62"/>
<circle cx="689.0" cy="189.4" r="2.62"/>
<circle cx="689.0" cy="309.0" r="2.62"/>
<circle cx="689.0" cy="332.8" r="2.62"/>
</g>
<g fill="#b9e0de" stroke="#0d2626" stroke-width="1.15">
<circle cx="776.2" cy="82.2" r="2.62"/>
<circle cx="776.2" cy="94.0" r="2.62"/>
<circle cx="776.2" cy="102.9" r="2.62"/>
<circle cx="778.9" cy="106.5" r="2.62"/>
<circle cx="776.2" cy="118.6" r="2.62"/>
<circle cx="776.9" cy="123.0" r="2.62"/>
<circle cx="778.7" cy="127.6" r="2.62"/>
<circle cx="774.3" cy="126.6" r="2.62"/>
<circle cx="767.9" cy="131.5" r="2.62"/>
<circle cx="781.1" cy="131.4" r="2.62"/>
<circle cx="772.3" cy="130.7" r="2.62"/>
<circle cx="771.7" cy="135.5" r="2.62"/>
<circle cx="776.2" cy="135.4" r="2.62"/>
<circle cx="778.0" cy="139.6" r="2.62"/>
<circle cx="780.1" cy="143.5" r="2.62"/>
<circle cx="775.6" cy="143.4" r="2.62"/>
<circle cx="776.2" cy="147.9" r="2.62"/>
<circle cx="771.7" cy="147.9" r="2.62"/>
<circle cx="779.1" cy="151.3" r="2.62"/>
<circle cx="768.9" cy="151.4" r="2.62"/>
<circle cx="783.6" cy="151.3" r="2.62"/>
<circle cx="776.2" cy="155.3" r="2.62"/>
<circle cx="771.7" cy="155.6" r="2.62"/>
<circle cx="776.2" cy="159.8" r="2.62"/>
<circle cx="778.7" cy="163.9" r="2.62"/>
<circle cx="774.2" cy="163.8" r="2.62"/>
<circle cx="769.7" cy="164.3" r="2.62"/>
<circle cx="776.2" cy="167.9" r="2.62"/>
<circle cx="785.7" cy="168.1" r="2.62"/>
<circle cx="771.7" cy="168.4" r="2.62"/>
<circle cx="781.2" cy="167.7" r="2.62"/>
<circle cx="778.7" cy="171.7" r="2.62"/>
<circle cx="768.8" cy="171.8" r="2.62"/>
<circle cx="774.2" cy="172.3" r="2.62"/>
<circle cx="783.1" cy="172.0" r="2.62"/>
<circle cx="776.2" cy="176.3" r="2.62"/>
<circle cx="771.7" cy="176.7" r="2.62"/>
<circle cx="780.7" cy="176.6" r="2.62"/>
<circle cx="782.2" cy="180.8" r="2.62"/>
<circle cx="768.5" cy="179.9" r="2.62"/>
<circle cx="777.1" cy="180.7" r="2.62"/>
<circle cx="770.1" cy="184.6" r="2.62"/>
<circle cx="779.4" cy="184.6" r="2.62"/>
<circle cx="774.6" cy="184.5" r="2.62"/>
<circle cx="784.1" cy="184.9" r="2.62"/>
<circle cx="781.4" cy="188.9" r="2.62"/>
<circle cx="776.9" cy="188.3" r="2.62"/>
<circle cx="786.1" cy="189.0" r="2.62"/>
<circle cx="772.4" cy="188.5" r="2.62"/>
<circle cx="767.7" cy="188.4" r="2.62"/>
<circle cx="775.0" cy="192.4" r="2.62"/>
<circle cx="770.4" cy="192.5" r="2.62"/>
<circle cx="788.6" cy="192.7" r="2.62"/>
<circle cx="765.3" cy="192.3" r="2.62"/>
<circle cx="779.4" cy="193.1" r="2.62"/>
<circle cx="760.8" cy="192.7" r="2.62"/>
<circle cx="768.7" cy="196.8" r="2.62"/>
<circle cx="782.0" cy="196.7" r="2.62"/>
<circle cx="773.1" cy="196.5" r="2.62"/>
<circle cx="771.2" cy="200.5" r="2.62"/>
<circle cx="762.2" cy="201.4" r="2.62"/>
<circle cx="788.6" cy="201.3" r="2.62"/>
<circle cx="766.7" cy="201.0" r="2.62"/>
<circle cx="776.2" cy="200.4" r="2.62"/>
<circle cx="784.2" cy="200.7" r="2.62"/>
<circle cx="773.7" cy="204.9" r="2.62"/>
<circle cx="764.7" cy="205.5" r="2.62"/>
<circle cx="769.2" cy="205.1" r="2.62"/>
<circle cx="778.2" cy="204.5" r="2.62"/>
<circle cx="782.6" cy="205.5" r="2.62"/>
<circle cx="771.7" cy="209.1" r="2.62"/>
<circle cx="789.6" cy="209.2" r="2.62"/>
<circle cx="780.7" cy="209.6" r="2.62"/>
<circle cx="785.1" cy="209.2" r="2.62"/>
<circle cx="794.1" cy="209.4" r="2.62"/>
<circle cx="767.2" cy="209.2" r="2.62"/>
<circle cx="762.4" cy="209.3" r="2.62"/>
<circle cx="776.2" cy="208.9" r="2.62"/>
<circle cx="770.1" cy="213.4" r="2.62"/>
<circle cx="787.7" cy="213.7" r="2.62"/>
<circle cx="797.2" cy="212.7" r="2.62"/>
<circle cx="783.2" cy="213.3" r="2.62"/>
<circle cx="759.4" cy="212.7" r="2.62"/>
<circle cx="754.9" cy="212.8" r="2.62"/>
<circle cx="765.6" cy="213.7" r="2.62"/>
<circle cx="774.6" cy="213.1" r="2.62"/>
<circle cx="790.8" cy="216.9" r="2.62"/>
<circle cx="804.3" cy="217.7" r="2.62"/>
<circle cx="781.6" cy="217.5" r="2.62"/>
<circle cx="749.1" cy="217.8" r="2.62"/>
<circle cx="795.3" cy="217.1" r="2.62"/>
<circle cx="777.2" cy="216.8" r="2.62"/>
<circle cx="768.2" cy="217.6" r="2.62"/>
<circle cx="753.6" cy="217.6" r="2.62"/>
<circle cx="799.8" cy="217.6" r="2.62"/>
<circle cx="772.7" cy="217.3" r="2.62"/>
<circle cx="808.8" cy="217.8" r="2.62"/>
<circle cx="758.1" cy="217.1" r="2.62"/>
<circle cx="762.6" cy="217.1" r="2.62"/>
<circle cx="761.0" cy="221.3" r="2.62"/>
<circle cx="789.1" cy="221.1" r="2.62"/>
<circle cx="775.5" cy="221.0" r="2.62"/>
<circle cx="784.6" cy="220.9" r="2.62"/>
<circle cx="756.5" cy="221.8" r="2.62"/>
<circle cx="798.1" cy="221.9" r="2.62"/>
<circle cx="779.9" cy="221.7" r="2.62"/>
<circle cx="771.0" cy="221.7" r="2.62"/>
<circle cx="793.6" cy="221.3" r="2.62"/>
<circle cx="765.5" cy="221.1" r="2.62"/>
<circle cx="754.6" cy="225.9" r="2.62"/>
<circle cx="759.1" cy="225.8" r="2.62"/>
<circle cx="768.0" cy="225.1" r="2.62"/>
<circle cx="799.9" cy="226.0" r="2.62"/>
<circle cx="776.6" cy="225.3" r="2.62"/>
<circle cx="782.9" cy="225.1" r="2.62"/>
<circle cx="791.9" cy="225.8" r="2.62"/>
<circle cx="787.4" cy="225.5" r="2.62"/>
<circle cx="763.6" cy="225.8" r="2.62"/>
<circle cx="774.2" cy="229.1" r="2.62"/>
<circle cx="769.7" cy="229.4" r="2.62"/>
<circle cx="778.8" cy="229.2" r="2.62"/>
<circle cx="752.4" cy="230.0" r="2.62"/>
<circle cx="761.4" cy="229.7" r="2.62"/>
<circle cx="756.9" cy="229.8" r="2.62"/>
<circle cx="783.9" cy="229.5" r="2.62"/>
<circle cx="794.2" cy="229.6" r="2.62"/>
<circle cx="789.4" cy="229.6" r="2.62"/>
<circle cx="755.2" cy="234.0" r="2.62"/>
<circle cx="771.7" cy="233.5" r="2.62"/>
<circle cx="767.2" cy="233.6" r="2.62"/>
<circle cx="780.8" cy="233.3" r="2.62"/>
<circle cx="800.3" cy="234.2" r="2.62"/>
<circle cx="759.7" cy="233.9" r="2.62"/>
<circle cx="785.7" cy="233.6" r="2.62"/>
<circle cx="791.3" cy="233.6" r="2.62"/>
<circle cx="776.2" cy="233.2" r="2.62"/>
<circle cx="795.8" cy="233.9" r="2.62"/>
<circle cx="792.4" cy="238.1" r="2.62"/>
<circle cx="778.9" cy="237.6" r="2.62"/>
<circle cx="765.4" cy="238.0" r="2.62"/>
<circle cx="787.9" cy="238.1" r="2.62"/>
<circle cx="774.4" cy="237.4" r="2.62"/>
<circle cx="760.9" cy="238.2" r="2.62"/>
<circle cx="769.9" cy="237.7" r="2.62"/>
<circle cx="783.4" cy="237.9" r="2.62"/>
<circle cx="776.4" cy="241.4" r="2.62"/>
<circle cx="753.2" cy="241.6" r="2.62"/>
<circle cx="763.0" cy="242.4" r="2.62"/>
<circle cx="789.9" cy="242.1" r="2.62"/>
<circle cx="785.4" cy="241.9" r="2.62"/>
<circle cx="799.7" cy="241.9" r="2.62"/>
<circle cx="804.2" cy="241.9" r="2.62"/>
<circle cx="780.9" cy="241.7" r="2.62"/>
<circle cx="795.2" cy="241.6" r="2.62"/>
<circle cx="757.7" cy="241.4" r="2.62"/>
<circle cx="767.5" cy="242.1" r="2.62"/>
<circle cx="772.0" cy="241.8" r="2.62"/>
<circle cx="748.7" cy="241.9" r="2.62"/>
<circle cx="744.3" cy="242.1" r="2.62"/>
<circle cx="746.4" cy="246.5" r="2.62"/>
<circle cx="774.7" cy="245.5" r="2.62"/>
<circle cx="806.7" cy="245.7" r="2.62"/>
<circle cx="759.9" cy="245.6" r="2.62"/>
<circle cx="750.9" cy="246.4" r="2.62"/>
<circle cx="797.3" cy="246.3" r="2.62"/>
<circle cx="779.2" cy="245.9" r="2.62"/>
<circle cx="792.8" cy="245.5" r="2.62"/>
<circle cx="755.4" cy="245.6" r="2.62"/>
<circle cx="788.1" cy="246.2" r="2.62"/>
<circle cx="801.7" cy="246.5" r="2.62"/>
<circle cx="783.7" cy="246.1" r="2.62"/>
<circle cx="770.2" cy="246.0" r="2.62"/>
<circle cx="765.6" cy="246.2" r="2.62"/>
<circle cx="776.4" cy="249.7" r="2.62"/>
<circle cx="785.7" cy="250.1" r="2.62"/>
<circle cx="799.3" cy="250.3" r="2.62"/>
<circle cx="748.8" cy="250.5" r="2.62"/>
<circle cx="781.1" cy="250.0" r="2.62"/>
<circle cx="744.4" cy="250.6" r="2.62"/>
<circle cx="791.0" cy="249.7" r="2.62"/>
<circle cx="804.2" cy="250.3" r="2.62"/>
<circle cx="768.2" cy="250.0" r="2.62"/>
<circle cx="753.3" cy="250.3" r="2.62"/>
<circle cx="757.8" cy="249.6" r="2.62"/>
<circle cx="762.7" cy="249.6" r="2.62"/>
<circle cx="782.7" cy="254.2" r="2.62"/>
<circle cx="757.7" cy="254.4" r="2.62"/>
<circle cx="773.3" cy="254.2" r="2.62"/>
<circle cx="777.8" cy="253.9" r="2.62"/>
<circle cx="762.2" cy="254.3" r="2.62"/>
<circle cx="766.7" cy="254.2" r="2.62"/>
<circle cx="787.5" cy="254.2" r="2.62"/>
<circle cx="792.0" cy="254.4" r="2.62"/>
<circle cx="796.5" cy="254.5" r="2.62"/>
<circle cx="771.5" cy="258.4" r="2.62"/>
<circle cx="784.9" cy="258.5" r="2.62"/>
<circle cx="775.9" cy="258.0" r="2.62"/>
<circle cx="760.8" cy="258.8" r="2.62"/>
<circle cx="780.4" cy="258.4" r="2.62"/>
<circle cx="789.4" cy="258.6" r="2.62"/>
<circle cx="765.3" cy="258.5" r="2.62"/>
<circle cx="796.8" cy="262.1" r="2.62"/>
<circle cx="773.4" cy="262.7" r="2.62"/>
<circle cx="786.8" cy="262.9" r="2.62"/>
<circle cx="777.8" cy="262.1" r="2.62"/>
<circle cx="782.3" cy="262.8" r="2.62"/>
<circle cx="757.7" cy="262.1" r="2.62"/>
<circle cx="792.3" cy="262.0" r="2.62"/>
<circle cx="768.6" cy="261.9" r="2.62"/>
<circle cx="784.4" cy="266.8" r="2.62"/>
<circle cx="762.2" cy="266.0" r="2.62"/>
<circle cx="752.5" cy="267.0" r="2.62"/>
<circle cx="794.3" cy="266.4" r="2.62"/>
<circle cx="789.8" cy="266.2" r="2.62"/>
<circle cx="756.9" cy="266.5" r="2.62"/>
<circle cx="771.2" cy="266.7" r="2.62"/>
<circle cx="766.7" cy="266.0" r="2.62"/>
<circle cx="776.2" cy="266.4" r="2.62"/>
<circle cx="798.8" cy="266.7" r="2.62"/>
<circle cx="790.9" cy="270.9" r="2.62"/>
<circle cx="778.8" cy="270.1" r="2.62"/>
<circle cx="760.1" cy="270.9" r="2.62"/>
<circle cx="764.6" cy="270.8" r="2.62"/>
<circle cx="769.1" cy="270.7" r="2.62"/>
<circle cx="774.2" cy="270.4" r="2.62"/>
<circle cx="755.6" cy="271.1" r="2.62"/>
<circle cx="795.4" cy="270.9" r="2.62"/>
<circle cx="786.4" cy="270.8" r="2.62"/>
<circle cx="767.3" cy="274.8" r="2.62"/>
<circle cx="753.7" cy="275.2" r="2.62"/>
<circle cx="788.5" cy="274.8" r="2.62"/>
<circle cx="758.2" cy="275.1" r="2.62"/>
<circle cx="762.7" cy="274.9" r="2.62"/>
<circle cx="781.1" cy="274.3" r="2.62"/>
<circle cx="771.9" cy="274.3" r="2.62"/>
<circle cx="776.6" cy="274.2" r="2.62"/>
<circle cx="793.0" cy="274.9" r="2.62"/>
<circle cx="798.3" cy="274.4" r="2.62"/>
<circle cx="782.9" cy="278.6" r="2.62"/>
<circle cx="778.4" cy="278.4" r="2.62"/>
<circle cx="769.4" cy="278.8" r="2.62"/>
<circle cx="773.9" cy="278.5" r="2.62"/>
<circle cx="767.2" cy="283.4" r="2.62"/>
<circle cx="776.2" cy="282.7" r="2.62"/>
<circle cx="785.2" cy="283.2" r="2.62"/>
<circle cx="771.7" cy="282.9" r="2.62"/>
<circle cx="780.7" cy="282.8" r="2.62"/>
<circle cx="764.7" cy="287.1" r="2.62"/>
<circle cx="777.8" cy="286.9" r="2.62"/>
<circle cx="787.2" cy="287.2" r="2.62"/>
<circle cx="782.5" cy="286.9" r="2.62"/>
<circle cx="760.3" cy="287.4" r="2.62"/>
<circle cx="773.3" cy="287.1" r="2.62"/>
<circle cx="791.7" cy="287.5" r="2.62"/>
<circle cx="771.4" cy="291.4" r="2.62"/>
<circle cx="775.9" cy="290.9" r="2.62"/>
<circle cx="784.8" cy="291.6" r="2.62"/>
<circle cx="766.9" cy="291.6" r="2.62"/>
<circle cx="780.4" cy="291.1" r="2.62"/>
<circle cx="787.9" cy="294.9" r="2.62"/>
<circle cx="763.8" cy="294.9" r="2.62"/>
<circle cx="777.3" cy="295.2" r="2.62"/>
<circle cx="781.7" cy="295.7" r="2.62"/>
<circle cx="772.8" cy="295.7" r="2.62"/>
<circle cx="783.8" cy="299.7" r="2.62"/>
<circle cx="770.1" cy="299.3" r="2.62"/>
<circle cx="775.7" cy="299.5" r="2.62"/>
<circle cx="773.0" cy="303.0" r="2.62"/>
<circle cx="778.5" cy="303.0" r="2.62"/>
<circle cx="768.5" cy="303.7" r="2.62"/>
<circle cx="776.2" cy="307.1" r="2.62"/>
<circle cx="780.7" cy="307.5" r="2.62"/>
<circle cx="774.0" cy="311.1" r="2.62"/>
<circle cx="783.0" cy="311.4" r="2.62"/>
<circle cx="776.2" cy="315.6" r="2.62"/>
<circle cx="771.7" cy="320.3" r="2.62"/>
<circle cx="776.2" cy="320.2" r="2.62"/>
<circle cx="779.3" cy="323.5" r="2.62"/>
<circle cx="776.2" cy="328.4" r="2.62"/>
<circle cx="778.7" cy="332.2" r="2.62"/>
<circle cx="776.2" cy="336.3" r="2.62"/>
<circle cx="776.2" cy="70.8" r="2.62"/>
<circle cx="776.2" cy="349.8" r="2.62"/>
</g>
<line x1="347.30" y1="577.00" x2="347.30" y2="972.20" stroke="#000" stroke-width="2.1" stroke-linecap="butt"/>
<line x1="346.25" y1="971.10" x2="629.60" y2="971.10" stroke="#000" stroke-width="2.2" stroke-linecap="butt"/>
<line x1="339.80" y1="890.30" x2="347.30" y2="890.30" stroke="#222" stroke-width="1.3" stroke-linecap="butt"/>
<text x="334.20" y="898.40" font-size="21.5" text-anchor="end" stroke="#111" stroke-width="0.35" fill="#111" >12</text>
<line x1="339.80" y1="824.00" x2="347.30" y2="824.00" stroke="#222" stroke-width="1.3" stroke-linecap="butt"/>
<text x="334.20" y="832.10" font-size="21.5" text-anchor="end" stroke="#111" stroke-width="0.35" fill="#111" >14</text>
<line x1="339.80" y1="757.70" x2="347.30" y2="757.70" stroke="#222" stroke-width="1.3" stroke-linecap="butt"/>
<text x="334.20" y="765.80" font-size="21.5" text-anchor="end" stroke="#111" stroke-width="0.35" fill="#111" >16</text>
<line x1="339.80" y1="691.40" x2="347.30" y2="691.40" stroke="#222" stroke-width="1.3" stroke-linecap="butt"/>
<text x="334.20" y="699.50" font-size="21.5" text-anchor="end" stroke="#111" stroke-width="0.35" fill="#111" >18</text>
<line x1="339.80" y1="625.10" x2="347.30" y2="625.10" stroke="#222" stroke-width="1.3" stroke-linecap="butt"/>
<text x="334.20" y="633.20" font-size="21.5" text-anchor="end" stroke="#111" stroke-width="0.35" fill="#111" >20</text>
<line x1="339.80" y1="956.50" x2="347.30" y2="956.50" stroke="#222" stroke-width="1.3" stroke-linecap="butt"/>
<text x="334.20" y="964.70" font-size="21.5" text-anchor="end" stroke="#111" stroke-width="0.35" fill="#111" >0</text>
<rect x="339.3" y="931" width="16" height="11" fill="#fff"/>
<line x1="338.80" y1="940.50" x2="356.30" y2="930.50" stroke="#222" stroke-width="1" stroke-linecap="butt"/>
<line x1="338.80" y1="947.00" x2="356.30" y2="937.00" stroke="#222" stroke-width="1" stroke-linecap="butt"/>
<line x1="401.10" y1="972.00" x2="401.10" y2="978.30" stroke="#333" stroke-width="0.9" stroke-linecap="butt"/>
<line x1="488.50" y1="972.00" x2="488.50" y2="978.30" stroke="#333" stroke-width="0.9" stroke-linecap="butt"/>
<line x1="576.00" y1="972.00" x2="576.00" y2="978.30" stroke="#333" stroke-width="0.9" stroke-linecap="butt"/>
<text x="396.30" y="1008.60" font-size="24.5" text-anchor="middle" stroke="#111" stroke-width="0.35" fill="#111" >MSI–H</text>
<text x="490.90" y="1008.60" font-size="24.5" text-anchor="middle" stroke="#111" stroke-width="0.35" fill="#111" >MSI–L</text>
<text x="574.20" y="1008.60" font-size="24.5" text-anchor="middle" stroke="#111" stroke-width="0.35" fill="#111" >MSS</text>
<text x="258.50" y="773.50" font-size="25" text-anchor="middle" font-weight="bold" fill="#000" transform="rotate(-90 258.50 773.50)" >Mean allele-specific neoantigen</text>
<text x="290.4" y="773" font-size="25" text-anchor="middle" font-weight="bold" fill="#000" transform="rotate(-90 290.4 773)">expression (log<tspan font-size="15" dy="4.5">2</tspan><tspan dy="-4.5"> FPKM + 1)</tspan></text>
<line x1="366.4" y1="743.6" x2="384.1" y2="743.6" stroke="#000" stroke-width="2.2"/><line x1="414.7" y1="743.6" x2="435.8" y2="743.6" stroke="#000" stroke-width="2.2"/>
<line x1="453.8" y1="761.2" x2="482.5" y2="761.2" stroke="#000" stroke-width="2.2"/><line x1="494.5" y1="761.2" x2="523.2" y2="761.2" stroke="#000" stroke-width="2.2"/>
<line x1="541.3" y1="762.0" x2="548.0" y2="762.0" stroke="#000" stroke-width="2.2"/><line x1="605.2" y1="762.0" x2="610.7" y2="762.0" stroke="#000" stroke-width="2.2"/>
<path d="M401.1 573.0V568.8H576.0V573.0" stroke="#4a4a4a" stroke-width="1.0" fill="none" />
<text x="488.20" y="566.30" font-size="20.5" text-anchor="middle" fill="#222"><tspan font-style="italic">P</tspan> = 3e-4</text>
<path d="M401.1 601.0V596.8H488.1V601.0" stroke="#4a4a4a" stroke-width="1.0" fill="none" />
<text x="445.80" y="594.30" font-size="20.5" text-anchor="middle" fill="#222"><tspan font-style="italic">P</tspan> = 2e-3</text>
<path d="M488.9 592.6V588.4H576.0V592.6" stroke="#555" stroke-width="1.0" fill="none" />
<text x="532.70" y="585.20" font-size="20.5" text-anchor="middle" fill="#222"><tspan font-style="italic">P</tspan> = NS</text>
<g fill="#b5222e" stroke="#2e0508" stroke-width="1.15">
<circle cx="401.1" cy="717.1" r="2.62"/>
<circle cx="403.7" cy="721.8" r="2.62"/>
<circle cx="399.2" cy="721.2" r="2.62"/>
<circle cx="394.8" cy="721.9" r="2.62"/>
<circle cx="401.1" cy="726.0" r="2.62"/>
<circle cx="406.5" cy="725.3" r="2.62"/>
<circle cx="403.5" cy="729.7" r="2.62"/>
<circle cx="393.7" cy="730.3" r="2.62"/>
<circle cx="398.0" cy="729.3" r="2.62"/>
<circle cx="396.6" cy="733.8" r="2.62"/>
<circle cx="405.7" cy="733.7" r="2.62"/>
<circle cx="410.1" cy="734.4" r="2.62"/>
<circle cx="401.1" cy="733.6" r="2.62"/>
<circle cx="403.7" cy="738.1" r="2.62"/>
<circle cx="394.8" cy="738.4" r="2.62"/>
<circle cx="399.2" cy="737.7" r="2.62"/>
<circle cx="410.1" cy="742.6" r="2.62"/>
<circle cx="405.6" cy="742.4" r="2.62"/>
<circle cx="401.1" cy="742.3" r="2.62"/>
<circle cx="392.8" cy="742.4" r="2.62"/>
<circle cx="398.4" cy="745.9" r="2.62"/>
<circle cx="413.2" cy="745.9" r="2.62"/>
<circle cx="390.1" cy="746.0" r="2.62"/>
<circle cx="385.6" cy="746.1" r="2.62"/>
<circle cx="402.8" cy="746.6" r="2.62"/>
<circle cx="407.3" cy="746.7" r="2.62"/>
<circle cx="400.9" cy="750.6" r="2.62"/>
<circle cx="410.5" cy="749.9" r="2.62"/>
<circle cx="391.8" cy="750.4" r="2.62"/>
<circle cx="396.3" cy="749.9" r="2.62"/>
<circle cx="387.4" cy="750.8" r="2.62"/>
<circle cx="408.0" cy="754.6" r="2.62"/>
<circle cx="403.5" cy="754.3" r="2.62"/>
<circle cx="398.7" cy="754.6" r="2.62"/>
<circle cx="396.0" cy="758.2" r="2.62"/>
<circle cx="405.6" cy="758.8" r="2.62"/>
<circle cx="401.1" cy="758.8" r="2.62"/>
<circle cx="398.1" cy="762.2" r="2.62"/>
<circle cx="402.5" cy="763.1" r="2.62"/>
<circle cx="401.1" cy="676.8" r="2.62"/>
<circle cx="401.1" cy="701.1" r="2.62"/>
<circle cx="401.1" cy="711.7" r="2.62"/>
<circle cx="401.1" cy="777.0" r="2.62"/>
</g>
<g fill="#fdf0ee" stroke="#1e1212" stroke-width="1.15">
<circle cx="493.0" cy="721.7" r="2.62"/>
<circle cx="488.5" cy="721.4" r="2.62"/>
<circle cx="482.0" cy="726.1" r="2.62"/>
<circle cx="486.4" cy="725.4" r="2.62"/>
<circle cx="490.9" cy="725.8" r="2.62"/>
<circle cx="495.4" cy="726.2" r="2.62"/>
<circle cx="498.2" cy="729.7" r="2.62"/>
<circle cx="479.6" cy="729.9" r="2.62"/>
<circle cx="488.4" cy="729.6" r="2.62"/>
<circle cx="490.8" cy="733.4" r="2.62"/>
<circle cx="486.4" cy="734.2" r="2.62"/>
<circle cx="495.2" cy="734.3" r="2.62"/>
<circle cx="488.6" cy="738.1" r="2.62"/>
<circle cx="483.5" cy="737.6" r="2.62"/>
<circle cx="493.1" cy="738.5" r="2.62"/>
<circle cx="486.1" cy="741.8" r="2.62"/>
<circle cx="490.6" cy="742.4" r="2.62"/>
<circle cx="493.2" cy="746.0" r="2.62"/>
<circle cx="487.8" cy="745.9" r="2.62"/>
<circle cx="483.3" cy="746.2" r="2.62"/>
<circle cx="485.6" cy="750.2" r="2.62"/>
<circle cx="490.0" cy="749.9" r="2.62"/>
<circle cx="494.5" cy="750.7" r="2.62"/>
<circle cx="496.9" cy="754.5" r="2.62"/>
<circle cx="488.3" cy="754.0" r="2.62"/>
<circle cx="483.5" cy="754.2" r="2.62"/>
<circle cx="485.5" cy="758.3" r="2.62"/>
<circle cx="490.0" cy="758.2" r="2.62"/>
<circle cx="493.0" cy="762.6" r="2.62"/>
<circle cx="488.5" cy="762.4" r="2.62"/>
<circle cx="484.0" cy="762.9" r="2.62"/>
<circle cx="495.6" cy="766.2" r="2.62"/>
<circle cx="486.7" cy="766.6" r="2.62"/>
<circle cx="484.3" cy="770.4" r="2.62"/>
<circle cx="489.3" cy="770.3" r="2.62"/>
<circle cx="488.5" cy="774.8" r="2.62"/>
<circle cx="484.0" cy="775.3" r="2.62"/>
<circle cx="495.5" cy="778.6" r="2.62"/>
<circle cx="486.6" cy="779.1" r="2.62"/>
<circle cx="491.0" cy="778.5" r="2.62"/>
<circle cx="493.3" cy="783.4" r="2.62"/>
<circle cx="488.8" cy="783.0" r="2.62"/>
<circle cx="486.6" cy="786.9" r="2.62"/>
<circle cx="491.1" cy="787.7" r="2.62"/>
<circle cx="484.3" cy="790.8" r="2.62"/>
<circle cx="488.7" cy="791.6" r="2.62"/>
<circle cx="491.7" cy="795.0" r="2.62"/>
<circle cx="486.6" cy="795.6" r="2.62"/>
<circle cx="489.3" cy="799.3" r="2.62"/>
<circle cx="484.8" cy="799.8" r="2.62"/>
<circle cx="493.0" cy="804.0" r="2.62"/>
<circle cx="488.5" cy="803.9" r="2.62"/>
<circle cx="483.3" cy="804.0" r="2.62"/>
<circle cx="486.2" cy="807.8" r="2.62"/>
<circle cx="490.7" cy="808.1" r="2.62"/>
<circle cx="488.5" cy="812.0" r="2.62"/>
<circle cx="484.5" cy="698.5" r="2.62"/>
<circle cx="489.5" cy="699.5" r="2.62"/>
<circle cx="488.5" cy="704.5" r="2.62"/>
<circle cx="488.5" cy="712.9" r="2.62"/>
<circle cx="492.2" cy="833.0" r="2.62"/>
<circle cx="488.5" cy="836.0" r="2.62"/>
<circle cx="488.5" cy="861.2" r="2.62"/>
<circle cx="488.5" cy="886.9" r="2.62"/>
</g>
<g fill="#b9e0de" stroke="#0d2626" stroke-width="1.15">
<circle cx="576.0" cy="696.6" r="2.62"/>
<circle cx="581.4" cy="701.5" r="2.62"/>
<circle cx="572.4" cy="701.1" r="2.62"/>
<circle cx="576.9" cy="701.0" r="2.62"/>
<circle cx="569.8" cy="704.8" r="2.62"/>
<circle cx="588.6" cy="705.3" r="2.62"/>
<circle cx="584.1" cy="705.1" r="2.62"/>
<circle cx="565.3" cy="705.1" r="2.62"/>
<circle cx="579.3" cy="705.7" r="2.62"/>
<circle cx="572.6" cy="708.9" r="2.62"/>
<circle cx="574.9" cy="705.0" r="2.62"/>
<circle cx="563.6" cy="709.5" r="2.62"/>
<circle cx="568.1" cy="709.4" r="2.62"/>
<circle cx="586.5" cy="709.4" r="2.62"/>
<circle cx="582.0" cy="709.3" r="2.62"/>
<circle cx="571.5" cy="713.3" r="2.62"/>
<circle cx="580.5" cy="713.6" r="2.62"/>
<circle cx="576.0" cy="712.9" r="2.62"/>
<circle cx="568.9" cy="717.0" r="2.62"/>
<circle cx="577.6" cy="717.1" r="2.62"/>
<circle cx="587.6" cy="717.8" r="2.62"/>
<circle cx="583.1" cy="717.2" r="2.62"/>
<circle cx="564.5" cy="717.7" r="2.62"/>
<circle cx="567.0" cy="722.1" r="2.62"/>
<circle cx="576.0" cy="721.4" r="2.62"/>
<circle cx="580.5" cy="721.6" r="2.62"/>
<circle cx="585.0" cy="721.7" r="2.62"/>
<circle cx="571.5" cy="721.5" r="2.62"/>
<circle cx="587.9" cy="725.2" r="2.62"/>
<circle cx="563.9" cy="725.2" r="2.62"/>
<circle cx="559.4" cy="725.5" r="2.62"/>
<circle cx="583.0" cy="726.2" r="2.62"/>
<circle cx="592.4" cy="725.3" r="2.62"/>
<circle cx="574.1" cy="725.4" r="2.62"/>
<circle cx="578.5" cy="725.7" r="2.62"/>
<circle cx="558.1" cy="729.8" r="2.62"/>
<circle cx="590.7" cy="729.5" r="2.62"/>
<circle cx="595.2" cy="729.7" r="2.62"/>
<circle cx="580.7" cy="730.3" r="2.62"/>
<circle cx="576.3" cy="729.6" r="2.62"/>
<circle cx="567.3" cy="729.3" r="2.62"/>
<circle cx="562.8" cy="729.7" r="2.62"/>
<circle cx="586.2" cy="729.5" r="2.62"/>
<circle cx="571.8" cy="729.3" r="2.62"/>
<circle cx="597.1" cy="734.1" r="2.62"/>
<circle cx="592.6" cy="734.1" r="2.62"/>
<circle cx="588.1" cy="734.0" r="2.62"/>
<circle cx="569.4" cy="733.4" r="2.62"/>
<circle cx="578.3" cy="734.1" r="2.62"/>
<circle cx="555.9" cy="734.4" r="2.62"/>
<circle cx="573.9" cy="733.4" r="2.62"/>
<circle cx="564.9" cy="733.9" r="2.62"/>
<circle cx="560.4" cy="734.0" r="2.62"/>
<circle cx="583.6" cy="733.7" r="2.62"/>
<circle cx="566.5" cy="738.1" r="2.62"/>
<circle cx="594.2" cy="738.4" r="2.62"/>
<circle cx="554.0" cy="738.5" r="2.62"/>
<circle cx="580.6" cy="738.0" r="2.62"/>
<circle cx="571.0" cy="737.9" r="2.62"/>
<circle cx="598.7" cy="738.5" r="2.62"/>
<circle cx="585.1" cy="738.1" r="2.62"/>
<circle cx="589.7" cy="738.2" r="2.62"/>
<circle cx="575.5" cy="737.6" r="2.62"/>
<circle cx="562.0" cy="738.3" r="2.62"/>
<circle cx="582.1" cy="742.2" r="2.62"/>
<circle cx="564.2" cy="742.4" r="2.62"/>
<circle cx="586.6" cy="742.3" r="2.62"/>
<circle cx="591.1" cy="742.6" r="2.62"/>
<circle cx="551.0" cy="741.8" r="2.62"/>
<circle cx="559.0" cy="741.6" r="2.62"/>
<circle cx="568.7" cy="742.2" r="2.62"/>
<circle cx="573.2" cy="742.1" r="2.62"/>
<circle cx="595.8" cy="742.6" r="2.62"/>
<circle cx="577.7" cy="741.6" r="2.62"/>
<circle cx="556.9" cy="746.0" r="2.62"/>
<circle cx="593.3" cy="746.5" r="2.62"/>
<circle cx="566.7" cy="746.3" r="2.62"/>
<circle cx="576.0" cy="745.9" r="2.62"/>
<circle cx="588.6" cy="746.4" r="2.62"/>
<circle cx="552.5" cy="746.6" r="2.62"/>
<circle cx="548.0" cy="746.7" r="2.62"/>
<circle cx="598.4" cy="746.3" r="2.62"/>
<circle cx="584.1" cy="746.2" r="2.62"/>
<circle cx="602.8" cy="746.7" r="2.62"/>
<circle cx="571.4" cy="746.2" r="2.62"/>
<circle cx="561.4" cy="745.9" r="2.62"/>
<circle cx="595.2" cy="750.6" r="2.62"/>
<circle cx="590.4" cy="750.5" r="2.62"/>
<circle cx="573.7" cy="750.3" r="2.62"/>
<circle cx="559.4" cy="749.9" r="2.62"/>
<circle cx="585.7" cy="750.5" r="2.62"/>
<circle cx="569.2" cy="750.4" r="2.62"/>
<circle cx="578.2" cy="749.8" r="2.62"/>
<circle cx="564.0" cy="749.9" r="2.62"/>
<circle cx="605.9" cy="750.0" r="2.62"/>
<circle cx="555.0" cy="750.8" r="2.62"/>
<circle cx="566.7" cy="754.1" r="2.62"/>
<circle cx="562.2" cy="754.2" r="2.62"/>
<circle cx="571.7" cy="754.3" r="2.62"/>
<circle cx="597.4" cy="754.5" r="2.62"/>
<circle cx="552.5" cy="754.5" r="2.62"/>
<circle cx="580.1" cy="753.9" r="2.62"/>
<circle cx="601.9" cy="754.5" r="2.62"/>
<circle cx="592.7" cy="754.4" r="2.62"/>
<circle cx="548.0" cy="754.6" r="2.62"/>
<circle cx="557.7" cy="754.4" r="2.62"/>
<circle cx="587.9" cy="754.4" r="2.62"/>
<circle cx="555.6" cy="758.7" r="2.62"/>
<circle cx="564.6" cy="758.1" r="2.62"/>
<circle cx="590.2" cy="758.2" r="2.62"/>
<circle cx="594.7" cy="758.4" r="2.62"/>
<circle cx="550.9" cy="758.7" r="2.62"/>
<circle cx="581.8" cy="758.1" r="2.62"/>
<circle cx="576.0" cy="758.0" r="2.62"/>
<circle cx="569.2" cy="758.1" r="2.62"/>
<circle cx="603.7" cy="758.9" r="2.62"/>
<circle cx="599.2" cy="758.7" r="2.62"/>
<circle cx="560.1" cy="758.3" r="2.62"/>
<circle cx="577.9" cy="762.1" r="2.62"/>
<circle cx="554.2" cy="762.9" r="2.62"/>
<circle cx="568.1" cy="762.4" r="2.62"/>
<circle cx="587.9" cy="762.8" r="2.62"/>
<circle cx="592.4" cy="762.9" r="2.62"/>
<circle cx="573.4" cy="762.2" r="2.62"/>
<circle cx="583.4" cy="762.3" r="2.62"/>
<circle cx="563.4" cy="762.4" r="2.62"/>
<circle cx="596.9" cy="762.9" r="2.62"/>
<circle cx="549.5" cy="763.0" r="2.62"/>
<circle cx="558.9" cy="762.8" r="2.62"/>
<circle cx="557.6" cy="767.1" r="2.62"/>
<circle cx="598.5" cy="767.1" r="2.62"/>
<circle cx="594.0" cy="767.1" r="2.62"/>
<circle cx="576.0" cy="766.2" r="2.62"/>
<circle cx="589.5" cy="767.0" r="2.62"/>
<circle cx="552.8" cy="767.2" r="2.62"/>
<circle cx="562.5" cy="767.0" r="2.62"/>
<circle cx="567.0" cy="766.9" r="2.62"/>
<circle cx="571.5" cy="766.8" r="2.62"/>
<circle cx="580.5" cy="766.7" r="2.62"/>
<circle cx="585.0" cy="766.9" r="2.62"/>
<circle cx="549.7" cy="770.5" r="2.62"/>
<circle cx="601.5" cy="770.6" r="2.62"/>
<circle cx="582.4" cy="770.8" r="2.62"/>
<circle cx="587.0" cy="771.0" r="2.62"/>
<circle cx="569.5" cy="770.8" r="2.62"/>
<circle cx="577.6" cy="770.4" r="2.62"/>
<circle cx="564.9" cy="770.9" r="2.62"/>
<circle cx="545.2" cy="770.7" r="2.62"/>
<circle cx="553.5" cy="775.2" r="2.62"/>
<circle cx="584.5" cy="774.8" r="2.62"/>
<circle cx="589.6" cy="774.6" r="2.62"/>
<circle cx="598.6" cy="775.2" r="2.62"/>
<circle cx="544.5" cy="775.4" r="2.62"/>
<circle cx="594.1" cy="775.0" r="2.62"/>
<circle cx="575.9" cy="774.6" r="2.62"/>
<circle cx="562.5" cy="774.7" r="2.62"/>
<circle cx="603.1" cy="775.4" r="2.62"/>
<circle cx="549.0" cy="775.4" r="2.62"/>
<circle cx="567.6" cy="774.9" r="2.62"/>
<circle cx="558.0" cy="775.1" r="2.62"/>
<circle cx="556.5" cy="779.4" r="2.62"/>
<circle cx="561.5" cy="779.3" r="2.62"/>
<circle cx="582.2" cy="778.9" r="2.62"/>
<circle cx="566.0" cy="779.1" r="2.62"/>
<circle cx="586.7" cy="778.9" r="2.62"/>
<circle cx="573.2" cy="778.8" r="2.62"/>
<circle cx="591.2" cy="779.3" r="2.62"/>
<circle cx="577.7" cy="778.7" r="2.62"/>
<circle cx="575.5" cy="782.7" r="2.62"/>
<circle cx="589.0" cy="783.4" r="2.62"/>
<circle cx="553.9" cy="783.0" r="2.62"/>
<circle cx="594.0" cy="782.8" r="2.62"/>
<circle cx="570.7" cy="782.6" r="2.62"/>
<circle cx="580.0" cy="782.9" r="2.62"/>
<circle cx="584.5" cy="782.9" r="2.62"/>
<circle cx="559.8" cy="783.6" r="2.62"/>
<circle cx="564.2" cy="783.2" r="2.62"/>
<circle cx="586.5" cy="787.3" r="2.62"/>
<circle cx="568.5" cy="787.1" r="2.62"/>
<circle cx="591.0" cy="787.6" r="2.62"/>
<circle cx="562.5" cy="787.4" r="2.62"/>
<circle cx="573.0" cy="787.1" r="2.62"/>
<circle cx="577.5" cy="786.7" r="2.62"/>
<circle cx="582.0" cy="787.1" r="2.62"/>
<circle cx="566.1" cy="791.0" r="2.62"/>
<circle cx="571.1" cy="791.1" r="2.62"/>
<circle cx="555.7" cy="791.6" r="2.62"/>
<circle cx="588.4" cy="791.4" r="2.62"/>
<circle cx="597.9" cy="791.7" r="2.62"/>
<circle cx="575.8" cy="790.9" r="2.62"/>
<circle cx="560.2" cy="791.2" r="2.62"/>
<circle cx="551.2" cy="791.8" r="2.62"/>
<circle cx="593.4" cy="791.4" r="2.62"/>
<circle cx="583.9" cy="791.2" r="2.62"/>
<circle cx="595.3" cy="795.7" r="2.62"/>
<circle cx="564.5" cy="795.3" r="2.62"/>
<circle cx="586.3" cy="795.4" r="2.62"/>
<circle cx="577.3" cy="795.1" r="2.62"/>
<circle cx="554.1" cy="795.8" r="2.62"/>
<circle cx="599.8" cy="795.9" r="2.62"/>
<circle cx="549.3" cy="795.9" r="2.62"/>
<circle cx="569.0" cy="795.1" r="2.62"/>
<circle cx="590.8" cy="795.5" r="2.62"/>
<circle cx="581.8" cy="795.2" r="2.62"/>
<circle cx="559.1" cy="795.6" r="2.62"/>
<circle cx="584.2" cy="799.5" r="2.62"/>
<circle cx="593.2" cy="799.9" r="2.62"/>
<circle cx="579.8" cy="799.2" r="2.62"/>
<circle cx="588.7" cy="799.6" r="2.62"/>
<circle cx="575.3" cy="799.1" r="2.62"/>
<circle cx="570.8" cy="799.4" r="2.62"/>
<circle cx="566.3" cy="799.5" r="2.62"/>
<circle cx="561.8" cy="799.7" r="2.62"/>
<circle cx="585.0" cy="804.0" r="2.62"/>
<circle cx="571.5" cy="803.9" r="2.62"/>
<circle cx="576.0" cy="803.6" r="2.62"/>
<circle cx="580.5" cy="803.8" r="2.62"/>
<circle cx="582.6" cy="807.8" r="2.62"/>
<circle cx="574.1" cy="807.7" r="2.62"/>
<circle cx="587.1" cy="808.0" r="2.62"/>
<circle cx="569.4" cy="807.9" r="2.62"/>
<circle cx="576.0" cy="815.6" r="2.62"/>
<circle cx="580.4" cy="816.4" r="2.62"/>
<circle cx="564.7" cy="820.4" r="2.62"/>
<circle cx="578.1" cy="820.3" r="2.62"/>
<circle cx="573.7" cy="819.5" r="2.62"/>
<circle cx="587.4" cy="820.5" r="2.62"/>
<circle cx="569.2" cy="820.2" r="2.62"/>
<circle cx="582.9" cy="820.2" r="2.62"/>
<circle cx="571.0" cy="824.6" r="2.62"/>
<circle cx="580.1" cy="824.3" r="2.62"/>
<circle cx="575.5" cy="823.9" r="2.62"/>
<circle cx="576.9" cy="828.2" r="2.62"/>
<circle cx="576.0" cy="599.5" r="2.62"/>
<circle cx="577.7" cy="620.8" r="2.62"/>
<circle cx="576.0" cy="624.6" r="2.62"/>
<circle cx="576.0" cy="644.4" r="2.62"/>
<circle cx="576.0" cy="657.4" r="2.62"/>
<circle cx="567.0" cy="668.7" r="2.62"/>
<circle cx="570.5" cy="671.5" r="2.62"/>
<circle cx="575.5" cy="672.5" r="2.62"/>
<circle cx="580.5" cy="670.5" r="2.62"/>
<circle cx="575.5" cy="683.5" r="2.62"/>
<circle cx="580.0" cy="682.5" r="2.62"/>
<circle cx="576.0" cy="688.4" r="2.62"/>
<circle cx="573.2" cy="838.3" r="2.62"/>
<circle cx="579.2" cy="838.6" r="2.62"/>
<circle cx="573.0" cy="848.8" r="2.62"/>
<circle cx="580.2" cy="851.0" r="2.62"/>
<circle cx="576.2" cy="853.0" r="2.62"/>
<circle cx="576.0" cy="865.6" r="2.62"/>
<circle cx="576.0" cy="877.4" r="2.62"/>
<circle cx="576.0" cy="898.2" r="2.62"/>
<circle cx="576.0" cy="904.9" r="2.62"/>
<circle cx="576.0" cy="909.3" r="2.62"/>
<circle cx="567.1" cy="956.9" r="2.62"/>
<circle cx="570.8" cy="956.9" r="2.62"/>
<circle cx="574.5" cy="956.9" r="2.62"/>
<circle cx="578.1" cy="956.9" r="2.62"/>
<circle cx="581.8" cy="956.9" r="2.62"/>
<circle cx="585.5" cy="956.9" r="2.62"/>
<circle cx="589.2" cy="956.9" r="2.62"/>
</g>
<line x1="950.20" y1="33.70" x2="950.20" y2="401.30" stroke="#000" stroke-width="1.9" stroke-linecap="butt"/>
<line x1="949.25" y1="400.40" x2="1357.70" y2="400.40" stroke="#000" stroke-width="1.9" stroke-linecap="butt"/>
<line x1="946.20" y1="384.00" x2="950.20" y2="384.00" stroke="#222" stroke-width="1.3" stroke-linecap="butt"/>
<text x="943.30" y="391.90" font-size="22" text-anchor="end" font-weight="bold" fill="#4d4d4d" >0.00</text>
<line x1="946.20" y1="300.65" x2="950.20" y2="300.65" stroke="#222" stroke-width="1.3" stroke-linecap="butt"/>
<text x="943.30" y="308.55" font-size="22" text-anchor="end" font-weight="bold" fill="#4d4d4d" >0.25</text>
<line x1="946.20" y1="217.30" x2="950.20" y2="217.30" stroke="#222" stroke-width="1.3" stroke-linecap="butt"/>
<text x="943.30" y="225.20" font-size="22" text-anchor="end" font-weight="bold" fill="#4d4d4d" >0.50</text>
<line x1="946.20" y1="133.95" x2="950.20" y2="133.95" stroke="#222" stroke-width="1.3" stroke-linecap="butt"/>
<text x="943.30" y="141.85" font-size="22" text-anchor="end" font-weight="bold" fill="#4d4d4d" >0.75</text>
<line x1="946.20" y1="50.60" x2="950.20" y2="50.60" stroke="#222" stroke-width="1.3" stroke-linecap="butt"/>
<text x="943.30" y="58.50" font-size="22" text-anchor="end" font-weight="bold" fill="#4d4d4d" >1.00</text>
<line x1="968.80" y1="400.40" x2="968.80" y2="405.00" stroke="#222" stroke-width="1.3" stroke-linecap="butt"/>
<text x="968.80" y="423.60" font-size="22" text-anchor="middle" font-weight="bold" fill="#4d4d4d" >0.2</text>
<line x1="1074.20" y1="400.40" x2="1074.20" y2="405.00" stroke="#222" stroke-width="1.3" stroke-linecap="butt"/>
<text x="1074.20" y="423.60" font-size="22" text-anchor="middle" font-weight="bold" fill="#4d4d4d" >0.4</text>
<line x1="1179.60" y1="400.40" x2="1179.60" y2="405.00" stroke="#222" stroke-width="1.3" stroke-linecap="butt"/>
<text x="1179.60" y="423.60" font-size="22" text-anchor="middle" font-weight="bold" fill="#4d4d4d" >0.6</text>
<line x1="1285.00" y1="400.40" x2="1285.00" y2="405.00" stroke="#222" stroke-width="1.3" stroke-linecap="butt"/>
<text x="1285.00" y="423.60" font-size="22" text-anchor="middle" font-weight="bold" fill="#4d4d4d" >0.8</text>
<text x="1137.00" y="461.00" font-size="25" text-anchor="middle" font-weight="bold" fill="#000" >Purity adjusted VAF</text>
<path d="M983.4 384.1 L1065.8 384.1 L1065.8 377.0 L1070.3 377.0 L1070.3 363.0 L1083.7 363.0 L1083.7 356.0 L1092.0 356.0 L1092.0 342.6 L1104.7 342.6 L1104.7 321.0 L1106.5 321.0 L1106.5 314.5 L1111.8 314.5 L1111.8 306.8 L1114.5 306.8 L1114.5 293.0 L1116.0 293.0 L1116.0 279.0 L1117.5 279.0 L1117.5 272.3 L1119.0 272.3 L1119.0 258.0 L1120.5 258.0 L1120.5 244.5 L1121.9 244.5 L1121.9 238.4 L1124.0 238.4 L1124.0 230.0 L1126.0 230.0 L1126.0 216.3 L1128.5 216.3 L1128.5 202.0 L1130.7 202.0 L1130.7 189.0 L1136.6 189.0 L1136.6 175.0 L1138.5 175.0 L1138.5 161.0 L1140.3 161.0 L1140.3 154.0 L1142.0 154.0 L1142.0 147.0 L1144.0 147.0 L1144.0 140.0 L1146.0 140.0 L1146.0 133.0 L1149.2 133.0 L1149.2 113.2 L1156.8 113.2 L1156.8 106.3 L1175.3 106.3 L1175.3 85.6 L1214.0 85.6 L1214.0 78.4 L1260.9 78.4 L1260.9 71.4 L1291.8 71.4 L1291.8 57.4 L1311.3 57.4 L1311.3 54.5" stroke="#cb2029" stroke-width="3.8" fill="none" stroke-linejoin="miter"/>
<path d="M950.2 384.0 L977.0 384.0 L984.7 382.3 L1006.4 380.5 L1011.5 378.0 L1023.0 376.5 L1029.4 371.0 L1037.0 366.0 L1040.9 357.5 L1052.4 354.5 L1056.2 346.0 L1067.7 343.0 L1072.8 330.0 L1080.5 322.0 L1086.9 305.0 L1090.7 293.0 L1093.3 280.0 L1096.8 262.0 L1102.0 256.0 L1107.1 232.5 L1115.3 217.0 L1118.9 198.6 L1123.4 181.7 L1129.3 175.0 L1133.0 165.0 L1135.4 148.3 L1139.6 134.5 L1145.1 121.5 L1158.8 115.3 L1165.0 98.8 L1177.4 87.8 L1189.8 76.8 L1199.4 74.0 L1206.3 66.5 L1220.0 62.3 L1233.9 61.6 L1247.9 57.9 L1263.9 54.9 L1283.8 51.9 L1295.8 50.4 L1357.7 50.4" stroke="#72c3c3" stroke-width="3.8" fill="none" stroke-linejoin="round"/>
<text x="1013.50" y="290.00" font-size="24.5" text-anchor="start" font-weight="bold" fill="#72c3c3" >MSS</text>
<text x="1127.50" y="344.30" font-size="24.5" text-anchor="start" font-weight="bold" fill="#c6202a" >MSI-H</text>
<text x="1246.5" y="386.8" font-size="24" fill="#222"><tspan font-style="italic">P</tspan> = 2e-3</text>
<text x="720.00" y="581.50" font-size="24.8" text-anchor="start" stroke="#111" stroke-width="0.35" fill="#111" >CRC_01</text>
<text x="734.00" y="774.00" font-size="25" text-anchor="middle" font-weight="bold" fill="#000" transform="rotate(-90 734.00 774.00)" >Frequency</text>
<text x="996.50" y="1011.60" font-size="24.6" text-anchor="middle" font-weight="bold" fill="#000" >Log2 Intensity</text>
<line x1="792.00" y1="609.90" x2="792.00" y2="922.90" stroke="#262626" stroke-width="1.7" stroke-linecap="butt"/>
<line x1="781.00" y1="922.10" x2="792.00" y2="922.10" stroke="#262626" stroke-width="1.7" stroke-linecap="butt"/>
<text x="768.70" y="923.10" font-size="19.8" text-anchor="middle" stroke="#111" stroke-width="0.35" fill="#111" transform="rotate(-90 768.70 923.10)" >0</text>
<line x1="781.00" y1="870.20" x2="792.00" y2="870.20" stroke="#262626" stroke-width="1.7" stroke-linecap="butt"/>
<text x="768.70" y="871.20" font-size="19.8" text-anchor="middle" stroke="#111" stroke-width="0.35" fill="#111" transform="rotate(-90 768.70 871.20)" >200</text>
<line x1="781.00" y1="818.30" x2="792.00" y2="818.30" stroke="#262626" stroke-width="1.7" stroke-linecap="butt"/>
<text x="768.70" y="819.30" font-size="19.8" text-anchor="middle" stroke="#111" stroke-width="0.35" fill="#111" transform="rotate(-90 768.70 819.30)" >400</text>
<line x1="781.00" y1="766.40" x2="792.00" y2="766.40" stroke="#262626" stroke-width="1.7" stroke-linecap="butt"/>
<text x="768.70" y="767.40" font-size="19.8" text-anchor="middle" stroke="#111" stroke-width="0.35" fill="#111" transform="rotate(-90 768.70 767.40)" >600</text>
<line x1="781.00" y1="714.50" x2="792.00" y2="714.50" stroke="#262626" stroke-width="1.7" stroke-linecap="butt"/>
<text x="768.70" y="715.50" font-size="19.8" text-anchor="middle" stroke="#111" stroke-width="0.35" fill="#111" transform="rotate(-90 768.70 715.50)" >800</text>
<line x1="781.00" y1="662.60" x2="792.00" y2="662.60" stroke="#262626" stroke-width="1.7" stroke-linecap="butt"/>
<text x="768.70" y="664.10" font-size="19.8" text-anchor="middle" stroke="#111" stroke-width="0.35" fill="#111" transform="rotate(-90 768.70 664.10)" >1000</text>
<line x1="781.00" y1="610.70" x2="792.00" y2="610.70" stroke="#262626" stroke-width="1.7" stroke-linecap="butt"/>
<text x="768.70" y="614.70" font-size="19.8" text-anchor="middle" stroke="#111" stroke-width="0.35" fill="#111" transform="rotate(-90 768.70 614.70)" >1200</text>
<line x1="827.10" y1="936.00" x2="1147.60" y2="936.00" stroke="#262626" stroke-width="1.7" stroke-linecap="butt"/>
<line x1="827.90" y1="936.00" x2="827.90" y2="947.00" stroke="#262626" stroke-width="1.7" stroke-linecap="butt"/>
<text x="828.20" y="974.00" font-size="20" text-anchor="middle" stroke="#111" stroke-width="0.35" fill="#111" >20</text>
<line x1="934.20" y1="936.00" x2="934.20" y2="947.00" stroke="#262626" stroke-width="1.7" stroke-linecap="butt"/>
<text x="934.50" y="974.00" font-size="20" text-anchor="middle" stroke="#111" stroke-width="0.35" fill="#111" >25</text>
<line x1="1040.50" y1="936.00" x2="1040.50" y2="947.00" stroke="#262626" stroke-width="1.7" stroke-linecap="butt"/>
<text x="1040.80" y="974.00" font-size="20" text-anchor="middle" stroke="#111" stroke-width="0.35" fill="#111" >30</text>
<line x1="1146.80" y1="936.00" x2="1146.80" y2="947.00" stroke="#262626" stroke-width="1.7" stroke-linecap="butt"/>
<text x="1147.10" y="974.00" font-size="20" text-anchor="middle" stroke="#111" stroke-width="0.35" fill="#111" >35</text>
<rect x="866.01" y="922.2" width="4.25" height="0.0" fill="#e3f4fa"/>
<rect x="870.27" y="921.8" width="4.25" height="0.4" fill="#e3f4fa"/>
<rect x="874.52" y="920.9" width="4.25" height="1.3" fill="#e3f4fa"/>
<rect x="878.78" y="920.5" width="4.25" height="1.7" fill="#e3f4fa"/>
<rect x="883.03" y="914.9" width="4.25" height="7.3" fill="#e3f4fa"/>
<rect x="887.29" y="912.5" width="4.25" height="9.7" fill="#e3f4fa"/>
<rect x="891.54" y="909.3" width="4.25" height="12.9" fill="#e3f4fa"/>
<rect x="895.80" y="900.6" width="4.25" height="21.6" fill="#e3f4fa"/>
<rect x="900.05" y="887.9" width="4.25" height="34.3" fill="#e3f4fa"/>
<rect x="904.31" y="869.2" width="4.25" height="53.0" fill="#e3f4fa"/>
<rect x="908.56" y="855.2" width="4.25" height="67.0" fill="#e3f4fa"/>
<rect x="912.82" y="835.6" width="4.25" height="86.6" fill="#e3f4fa"/>
<rect x="917.07" y="797.3" width="4.25" height="124.9" fill="#fbe3e3"/>
<rect x="921.33" y="758.5" width="4.25" height="163.7" fill="#e3f4fa"/>
<rect x="925.58" y="726.2" width="4.25" height="196.0" fill="#e3f4fa"/>
<rect x="929.84" y="685.3" width="4.25" height="236.9" fill="#e3f4fa"/>
<rect x="934.09" y="641.0" width="4.25" height="281.2" fill="#e3f4fa"/>
<rect x="938.35" y="629.0" width="4.25" height="293.2" fill="#e3f4fa"/>
<rect x="942.60" y="623.2" width="4.25" height="299.0" fill="#e3f4fa"/>
<rect x="946.86" y="602.0" width="4.25" height="320.2" fill="#e3f4fa"/>
<rect x="951.11" y="621.6" width="4.25" height="300.6" fill="#fbe3e3"/>
<rect x="955.37" y="625.6" width="4.25" height="296.6" fill="#e3f4fa"/>
<rect x="959.62" y="654.6" width="4.25" height="267.6" fill="#e3f4fa"/>
<rect x="963.88" y="647.3" width="4.25" height="274.9" fill="#e3f4fa"/>
<rect x="968.13" y="673.0" width="4.25" height="249.2" fill="#e3f4fa"/>
<rect x="972.39" y="677.4" width="4.25" height="244.8" fill="#f1f1f1"/>
<rect x="976.64" y="674.8" width="4.25" height="247.4" fill="#f1f1f1"/>
<rect x="980.90" y="689.7" width="4.25" height="232.5" fill="#f1f1f1"/>
<rect x="985.15" y="716.8" width="4.25" height="205.4" fill="#f1f1f1"/>
<rect x="989.41" y="724.6" width="4.25" height="197.6" fill="#f1f1f1"/>
<rect x="993.66" y="739.6" width="4.25" height="182.6" fill="#f1f1f1"/>
<rect x="997.92" y="748.5" width="4.25" height="173.7" fill="#f1f1f1"/>
<rect x="1002.17" y="771.2" width="4.25" height="151.0" fill="#f1f1f1"/>
<rect x="1006.43" y="778.3" width="4.25" height="143.9" fill="#f1f1f1"/>
<rect x="1010.68" y="777.7" width="4.25" height="144.5" fill="#f1f1f1"/>
<rect x="1014.94" y="801.8" width="4.25" height="120.4" fill="#f1f1f1"/>
<rect x="1019.19" y="813.5" width="4.25" height="108.7" fill="#f1f1f1"/>
<rect x="1023.45" y="825.9" width="4.25" height="96.3" fill="#f1f1f1"/>
<rect x="1027.70" y="831.7" width="4.25" height="90.5" fill="#f1f1f1"/>
<rect x="1031.96" y="836.8" width="4.25" height="85.4" fill="#f1f1f1"/>
<rect x="1036.21" y="849.4" width="4.25" height="72.8" fill="#f1f1f1"/>
<rect x="1040.47" y="853.5" width="4.25" height="68.7" fill="#f1f1f1"/>
<rect x="1044.72" y="859.0" width="4.25" height="63.2" fill="#f1f1f1"/>
<rect x="1048.98" y="864.0" width="4.25" height="58.2" fill="#f1f1f1"/>
<rect x="1053.23" y="870.3" width="4.25" height="51.9" fill="#f1f1f1"/>
<rect x="1057.49" y="873.2" width="4.25" height="49.0" fill="#f1f1f1"/>
<rect x="1061.74" y="884.6" width="4.25" height="37.6" fill="#f1f1f1"/>
<rect x="1066.00" y="890.8" width="4.25" height="31.4" fill="#f1f1f1"/>
<rect x="1070.25" y="891.2" width="4.25" height="31.0" fill="#f1f1f1"/>
<rect x="1074.51" y="896.3" width="4.25" height="25.9" fill="#f1f1f1"/>
<rect x="1078.76" y="892.8" width="4.25" height="29.4" fill="#f1f1f1"/>
<rect x="1083.02" y="900.7" width="4.25" height="21.5" fill="#f1f1f1"/>
<rect x="1087.27" y="904.9" width="4.25" height="17.3" fill="#f1f1f1"/>
<rect x="1091.53" y="908.5" width="4.25" height="13.7" fill="#f1f1f1"/>
<rect x="1095.78" y="909.0" width="4.25" height="13.2" fill="#f1f1f1"/>
<rect x="1100.04" y="910.6" width="4.25" height="11.6" fill="#f1f1f1"/>
<rect x="1104.29" y="911.7" width="4.25" height="10.5" fill="#f1f1f1"/>
<rect x="1108.55" y="915.9" width="4.25" height="6.3" fill="#f1f1f1"/>
<rect x="1112.80" y="915.9" width="4.25" height="6.3" fill="#f1f1f1"/>
<rect x="1117.06" y="918.8" width="4.25" height="3.4" fill="#f1f1f1"/>
<rect x="1121.31" y="920.8" width="4.25" height="1.4" fill="#f1f1f1"/>
<rect x="1125.57" y="920.8" width="4.25" height="1.4" fill="#f1f1f1"/>
<rect x="1129.82" y="920.8" width="4.25" height="1.4" fill="#f1f1f1"/>
<rect x="1134.08" y="920.8" width="4.25" height="1.4" fill="#f1f1f1"/>
<rect x="1138.33" y="921.9" width="4.25" height="0.3" fill="#f1f1f1"/>
<rect x="866.74" y="921.8" width="2.80" height="0.4" fill="#add1de"/>
<rect x="871.00" y="921.4" width="2.80" height="0.8" fill="#add1de"/>
<rect x="875.25" y="920.5" width="2.80" height="1.7" fill="#add1de"/>
<rect x="879.51" y="920.1" width="2.80" height="2.1" fill="#add1de"/>
<rect x="883.76" y="914.5" width="2.80" height="7.7" fill="#add1de"/>
<rect x="888.02" y="912.1" width="2.80" height="10.1" fill="#add1de"/>
<rect x="892.27" y="908.9" width="2.80" height="13.3" fill="#add1de"/>
<rect x="896.53" y="900.2" width="2.80" height="22.0" fill="#add1de"/>
<rect x="900.78" y="887.5" width="2.80" height="34.7" fill="#add1de"/>
<rect x="905.04" y="868.8" width="2.80" height="53.4" fill="#add1de"/>
<rect x="909.29" y="854.8" width="2.80" height="67.4" fill="#add1de"/>
<rect x="913.55" y="835.2" width="2.80" height="87.0" fill="#add1de"/>
<rect x="917.65" y="796.9" width="3.10" height="125.3" fill="#bf272f"/>
<rect x="922.06" y="758.1" width="2.80" height="164.1" fill="#add1de"/>
<rect x="926.31" y="725.8" width="2.80" height="196.4" fill="#add1de"/>
<rect x="930.57" y="684.9" width="2.80" height="237.3" fill="#add1de"/>
<rect x="934.82" y="640.6" width="2.80" height="281.6" fill="#add1de"/>
<rect x="939.08" y="628.6" width="2.80" height="293.6" fill="#add1de"/>
<rect x="943.33" y="622.8" width="2.80" height="299.4" fill="#add1de"/>
<rect x="947.59" y="601.6" width="2.80" height="320.6" fill="#add1de"/>
<rect x="951.69" y="621.2" width="3.10" height="301.0" fill="#bf272f"/>
<rect x="956.10" y="625.2" width="2.80" height="297.0" fill="#add1de"/>
<rect x="960.35" y="654.2" width="2.80" height="268.0" fill="#add1de"/>
<rect x="964.61" y="646.9" width="2.80" height="275.3" fill="#add1de"/>
<rect x="968.86" y="672.6" width="2.80" height="249.6" fill="#add1de"/>
<rect x="973.12" y="677.0" width="2.80" height="245.2" fill="#adadad"/>
<rect x="977.37" y="674.4" width="2.80" height="247.8" fill="#adadad"/>
<rect x="981.63" y="689.3" width="2.80" height="232.9" fill="#adadad"/>
<rect x="985.88" y="716.4" width="2.80" height="205.8" fill="#adadad"/>
<rect x="990.14" y="724.2" width="2.80" height="198.0" fill="#adadad"/>
<rect x="994.39" y="739.2" width="2.80" height="183.0" fill="#adadad"/>
<rect x="998.65" y="748.1" width="2.80" height="174.1" fill="#adadad"/>
<rect x="1002.90" y="770.8" width="2.80" height="151.4" fill="#adadad"/>
<rect x="1007.16" y="777.9" width="2.80" height="144.3" fill="#adadad"/>
<rect x="1011.41" y="777.3" width="2.80" height="144.9" fill="#adadad"/>
<rect x="1015.67" y="801.4" width="2.80" height="120.8" fill="#adadad"/>
<rect x="1019.92" y="813.1" width="2.80" height="109.1" fill="#adadad"/>
<rect x="1024.17" y="825.5" width="2.80" height="96.7" fill="#adadad"/>
<rect x="1028.43" y="831.3" width="2.80" height="90.9" fill="#adadad"/>
<rect x="1032.68" y="836.4" width="2.80" height="85.8" fill="#adadad"/>
<rect x="1036.94" y="849.0" width="2.80" height="73.2" fill="#adadad"/>
<rect x="1041.19" y="853.1" width="2.80" height="69.1" fill="#adadad"/>
<rect x="1045.45" y="858.6" width="2.80" height="63.6" fill="#adadad"/>
<rect x="1049.70" y="863.6" width="2.80" height="58.6" fill="#adadad"/>
<rect x="1053.96" y="869.9" width="2.80" height="52.3" fill="#adadad"/>
<rect x="1058.21" y="872.8" width="2.80" height="49.4" fill="#adadad"/>
<rect x="1062.47" y="884.2" width="2.80" height="38.0" fill="#adadad"/>
<rect x="1066.72" y="890.4" width="2.80" height="31.8" fill="#adadad"/>
<rect x="1070.98" y="890.8" width="2.80" height="31.4" fill="#adadad"/>
<rect x="1075.24" y="895.9" width="2.80" height="26.3" fill="#adadad"/>
<rect x="1079.49" y="892.4" width="2.80" height="29.8" fill="#adadad"/>
<rect x="1083.74" y="900.3" width="2.80" height="21.9" fill="#adadad"/>
<rect x="1088.00" y="904.5" width="2.80" height="17.7" fill="#adadad"/>
<rect x="1092.26" y="908.1" width="2.80" height="14.1" fill="#adadad"/>
<rect x="1096.51" y="908.6" width="2.80" height="13.6" fill="#adadad"/>
<rect x="1100.77" y="910.2" width="2.80" height="12.0" fill="#adadad"/>
<rect x="1105.02" y="911.3" width="2.80" height="10.9" fill="#adadad"/>
<rect x="1109.28" y="915.5" width="2.80" height="6.7" fill="#adadad"/>
<rect x="1113.53" y="915.5" width="2.80" height="6.7" fill="#adadad"/>
<rect x="1117.79" y="918.4" width="2.80" height="3.8" fill="#adadad"/>
<rect x="1122.04" y="920.4" width="2.80" height="1.8" fill="#adadad"/>
<rect x="1126.30" y="920.4" width="2.80" height="1.8" fill="#adadad"/>
<rect x="1130.55" y="920.4" width="2.80" height="1.8" fill="#adadad"/>
<rect x="1134.81" y="920.4" width="2.80" height="1.8" fill="#adadad"/>
<rect x="1139.06" y="921.5" width="2.80" height="0.7" fill="#adadad"/>
<rect x="919.2" y="555.2" width="64.8" height="21" fill="#fbf2f2"/>
<text x="921.7" y="572.7" font-size="19.5" fill="#c9333b" textLength="59.8" lengthAdjust="spacingAndGlyphs">MED25</text>
<path d="M950.3000000000001 579.2H956.9V589.0H961.6L953.6 599.5L945.6 589.0H950.3000000000001Z" fill="#ee2326" stroke="#ee2326" stroke-width="0.8" stroke-linejoin="round"/>
<rect x="878.3" y="703.9" width="74.2" height="21" fill="#fbf3f4"/>
<text x="880.8" y="721.4" font-size="19.5" fill="#c9333b" textLength="69.2" lengthAdjust="spacingAndGlyphs">U2SURP</text>
<path d="M916.5 729H923.0999999999999V738.5H927.8L919.8 749L911.8 738.5H916.5Z" fill="#ee2326" stroke="#ee2326" stroke-width="0.8" stroke-linejoin="round"/>
<text x="1245.60" y="581.50" font-size="24.8" text-anchor="start" stroke="#111" stroke-width="0.35" fill="#111" >CRC_04</text>
<text x="1259.50" y="774.00" font-size="25" text-anchor="middle" font-weight="bold" fill="#000" transform="rotate(-90 1259.50 774.00)" >Frequency</text>
<text x="1528.50" y="1011.60" font-size="24.6" text-anchor="middle" font-weight="bold" fill="#000" >Log2 Intensity</text>
<line x1="1317.00" y1="626.50" x2="1317.00" y2="923.20" stroke="#262626" stroke-width="1.7" stroke-linecap="butt"/>
<line x1="1306.00" y1="922.40" x2="1317.00" y2="922.40" stroke="#262626" stroke-width="1.7" stroke-linecap="butt"/>
<text x="1293.70" y="923.40" font-size="19.8" text-anchor="middle" stroke="#111" stroke-width="0.35" fill="#111" transform="rotate(-90 1293.70 923.40)" >0</text>
<line x1="1306.00" y1="848.60" x2="1317.00" y2="848.60" stroke="#262626" stroke-width="1.7" stroke-linecap="butt"/>
<text x="1293.70" y="849.60" font-size="19.8" text-anchor="middle" stroke="#111" stroke-width="0.35" fill="#111" transform="rotate(-90 1293.70 849.60)" >200</text>
<line x1="1306.00" y1="774.80" x2="1317.00" y2="774.80" stroke="#262626" stroke-width="1.7" stroke-linecap="butt"/>
<text x="1293.70" y="775.80" font-size="19.8" text-anchor="middle" stroke="#111" stroke-width="0.35" fill="#111" transform="rotate(-90 1293.70 775.80)" >400</text>
<line x1="1306.00" y1="701.00" x2="1317.00" y2="701.00" stroke="#262626" stroke-width="1.7" stroke-linecap="butt"/>
<text x="1293.70" y="702.00" font-size="19.8" text-anchor="middle" stroke="#111" stroke-width="0.35" fill="#111" transform="rotate(-90 1293.70 702.00)" >600</text>
<line x1="1306.00" y1="627.20" x2="1317.00" y2="627.20" stroke="#262626" stroke-width="1.7" stroke-linecap="butt"/>
<text x="1293.70" y="628.20" font-size="19.8" text-anchor="middle" stroke="#111" stroke-width="0.35" fill="#111" transform="rotate(-90 1293.70 628.20)" >800</text>
<line x1="1360.90" y1="935.60" x2="1693.10" y2="935.60" stroke="#262626" stroke-width="1.7" stroke-linecap="butt"/>
<line x1="1361.70" y1="935.60" x2="1361.70" y2="946.60" stroke="#262626" stroke-width="1.7" stroke-linecap="butt"/>
<text x="1362.00" y="973.60" font-size="20" text-anchor="middle" stroke="#111" stroke-width="0.35" fill="#111" >20</text>
<line x1="1471.90" y1="935.60" x2="1471.90" y2="946.60" stroke="#262626" stroke-width="1.7" stroke-linecap="butt"/>
<text x="1472.20" y="973.60" font-size="20" text-anchor="middle" stroke="#111" stroke-width="0.35" fill="#111" >25</text>
<line x1="1582.10" y1="935.60" x2="1582.10" y2="946.60" stroke="#262626" stroke-width="1.7" stroke-linecap="butt"/>
<text x="1582.40" y="973.60" font-size="20" text-anchor="middle" stroke="#111" stroke-width="0.35" fill="#111" >30</text>
<line x1="1692.30" y1="935.60" x2="1692.30" y2="946.60" stroke="#262626" stroke-width="1.7" stroke-linecap="butt"/>
<text x="1692.60" y="973.60" font-size="20" text-anchor="middle" stroke="#111" stroke-width="0.35" fill="#111" >35</text>
<rect x="1352.66" y="921.4" width="4.41" height="0.8" fill="#e3f4fa"/>
<rect x="1357.08" y="921.4" width="4.41" height="0.8" fill="#e3f4fa"/>
<rect x="1361.48" y="919.6" width="4.41" height="2.6" fill="#e3f4fa"/>
<rect x="1365.89" y="919.6" width="4.41" height="2.6" fill="#e3f4fa"/>
<rect x="1370.31" y="916.2" width="4.41" height="6.0" fill="#e3f4fa"/>
<rect x="1374.71" y="909.9" width="4.41" height="12.3" fill="#e3f4fa"/>
<rect x="1379.12" y="906.5" width="4.41" height="15.7" fill="#e3f4fa"/>
<rect x="1383.53" y="895.3" width="4.41" height="26.9" fill="#e3f4fa"/>
<rect x="1387.94" y="884.1" width="4.41" height="38.1" fill="#e3f4fa"/>
<rect x="1392.36" y="866.4" width="4.41" height="55.8" fill="#e3f4fa"/>
<rect x="1396.76" y="842.7" width="4.41" height="79.5" fill="#e3f4fa"/>
<rect x="1401.17" y="812.3" width="4.41" height="109.9" fill="#e3f4fa"/>
<rect x="1405.59" y="797.9" width="4.41" height="124.3" fill="#e3f4fa"/>
<rect x="1409.99" y="749.8" width="4.41" height="172.4" fill="#e3f4fa"/>
<rect x="1414.40" y="726.0" width="4.41" height="196.2" fill="#e3f4fa"/>
<rect x="1418.82" y="678.0" width="4.41" height="244.2" fill="#e3f4fa"/>
<rect x="1423.22" y="675.9" width="4.41" height="246.3" fill="#e3f4fa"/>
<rect x="1427.63" y="643.5" width="4.41" height="278.7" fill="#e3f4fa"/>
<rect x="1432.05" y="605.4" width="4.41" height="316.8" fill="#e3f4fa"/>
<rect x="1436.45" y="617.1" width="4.41" height="305.1" fill="#e3f4fa"/>
<rect x="1440.87" y="623.0" width="4.41" height="299.2" fill="#e3f4fa"/>
<rect x="1445.27" y="624.6" width="4.41" height="297.6" fill="#e3f4fa"/>
<rect x="1449.68" y="641.0" width="4.41" height="281.2" fill="#e3f4fa"/>
<rect x="1454.10" y="666.9" width="4.41" height="255.3" fill="#fbe3e3"/>
<rect x="1458.50" y="651.8" width="4.41" height="270.4" fill="#e3f4fa"/>
<rect x="1462.91" y="668.0" width="4.41" height="254.2" fill="#f1f1f1"/>
<rect x="1467.33" y="688.9" width="4.41" height="233.3" fill="#f1f1f1"/>
<rect x="1471.73" y="680.2" width="4.41" height="242.0" fill="#f1f1f1"/>
<rect x="1476.14" y="688.6" width="4.41" height="233.6" fill="#f1f1f1"/>
<rect x="1480.56" y="714.3" width="4.41" height="207.9" fill="#f1f1f1"/>
<rect x="1484.96" y="741.2" width="4.41" height="181.0" fill="#f1f1f1"/>
<rect x="1489.38" y="735.6" width="4.41" height="186.6" fill="#f1f1f1"/>
<rect x="1493.78" y="751.8" width="4.41" height="170.4" fill="#f1f1f1"/>
<rect x="1498.19" y="769.0" width="4.41" height="153.2" fill="#f1f1f1"/>
<rect x="1502.61" y="770.9" width="4.41" height="151.3" fill="#f1f1f1"/>
<rect x="1507.01" y="772.8" width="4.41" height="149.4" fill="#f1f1f1"/>
<rect x="1511.42" y="796.1" width="4.41" height="126.1" fill="#f1f1f1"/>
<rect x="1515.84" y="811.8" width="4.41" height="110.4" fill="#f1f1f1"/>
<rect x="1520.24" y="828.9" width="4.41" height="93.3" fill="#f1f1f1"/>
<rect x="1524.65" y="834.1" width="4.41" height="88.1" fill="#f1f1f1"/>
<rect x="1529.07" y="840.6" width="4.41" height="81.6" fill="#f1f1f1"/>
<rect x="1533.47" y="850.5" width="4.41" height="71.7" fill="#f1f1f1"/>
<rect x="1537.88" y="850.0" width="4.41" height="72.2" fill="#f1f1f1"/>
<rect x="1542.30" y="863.6" width="4.41" height="58.6" fill="#f1f1f1"/>
<rect x="1546.70" y="868.3" width="4.41" height="53.9" fill="#f1f1f1"/>
<rect x="1551.12" y="869.2" width="4.41" height="53.0" fill="#f1f1f1"/>
<rect x="1555.53" y="882.3" width="4.41" height="39.9" fill="#f1f1f1"/>
<rect x="1559.93" y="892.5" width="4.41" height="29.7" fill="#f1f1f1"/>
<rect x="1564.35" y="884.5" width="4.41" height="37.7" fill="#f1f1f1"/>
<rect x="1568.75" y="884.9" width="4.41" height="37.3" fill="#f1f1f1"/>
<rect x="1573.16" y="902.2" width="4.41" height="20.0" fill="#f1f1f1"/>
<rect x="1577.58" y="900.0" width="4.41" height="22.2" fill="#f1f1f1"/>
<rect x="1581.98" y="901.7" width="4.41" height="20.5" fill="#f1f1f1"/>
<rect x="1586.39" y="906.9" width="4.41" height="15.3" fill="#f1f1f1"/>
<rect x="1590.81" y="910.2" width="4.41" height="12.0" fill="#f1f1f1"/>
<rect x="1595.21" y="907.3" width="4.41" height="14.9" fill="#f1f1f1"/>
<rect x="1599.62" y="915.8" width="4.41" height="6.4" fill="#f1f1f1"/>
<rect x="1604.03" y="912.1" width="4.41" height="10.1" fill="#f1f1f1"/>
<rect x="1608.44" y="913.8" width="4.41" height="8.4" fill="#f1f1f1"/>
<rect x="1612.86" y="913.8" width="4.41" height="8.4" fill="#f1f1f1"/>
<rect x="1617.26" y="918.6" width="4.41" height="3.6" fill="#f1f1f1"/>
<rect x="1621.67" y="916.6" width="4.41" height="5.6" fill="#f1f1f1"/>
<rect x="1626.09" y="919.0" width="4.41" height="3.2" fill="#f1f1f1"/>
<rect x="1630.49" y="919.0" width="4.41" height="3.2" fill="#f1f1f1"/>
<rect x="1634.90" y="919.9" width="4.41" height="2.3" fill="#f1f1f1"/>
<rect x="1639.32" y="919.4" width="4.41" height="2.8" fill="#f1f1f1"/>
<rect x="1643.72" y="921.4" width="4.41" height="0.8" fill="#f1f1f1"/>
<rect x="1353.42" y="921.0" width="2.90" height="1.2" fill="#add1de"/>
<rect x="1357.83" y="921.0" width="2.90" height="1.2" fill="#add1de"/>
<rect x="1362.24" y="919.2" width="2.90" height="3.0" fill="#add1de"/>
<rect x="1366.65" y="919.2" width="2.90" height="3.0" fill="#add1de"/>
<rect x="1371.06" y="915.8" width="2.90" height="6.4" fill="#add1de"/>
<rect x="1375.47" y="909.5" width="2.90" height="12.7" fill="#add1de"/>
<rect x="1379.88" y="906.1" width="2.90" height="16.1" fill="#add1de"/>
<rect x="1384.29" y="894.9" width="2.90" height="27.3" fill="#add1de"/>
<rect x="1388.70" y="883.7" width="2.90" height="38.5" fill="#add1de"/>
<rect x="1393.11" y="866.0" width="2.90" height="56.2" fill="#add1de"/>
<rect x="1397.52" y="842.3" width="2.90" height="79.9" fill="#add1de"/>
<rect x="1401.93" y="811.9" width="2.90" height="110.3" fill="#add1de"/>
<rect x="1406.34" y="797.5" width="2.90" height="124.7" fill="#add1de"/>
<rect x="1410.75" y="749.4" width="2.90" height="172.8" fill="#add1de"/>
<rect x="1415.16" y="725.6" width="2.90" height="196.6" fill="#add1de"/>
<rect x="1419.57" y="677.6" width="2.90" height="244.6" fill="#add1de"/>
<rect x="1423.98" y="675.5" width="2.90" height="246.7" fill="#add1de"/>
<rect x="1428.39" y="643.1" width="2.90" height="279.1" fill="#add1de"/>
<rect x="1432.80" y="605.0" width="2.90" height="317.2" fill="#add1de"/>
<rect x="1437.21" y="616.7" width="2.90" height="305.5" fill="#add1de"/>
<rect x="1441.62" y="622.6" width="2.90" height="299.6" fill="#add1de"/>
<rect x="1446.03" y="624.2" width="2.90" height="298.0" fill="#add1de"/>
<rect x="1450.44" y="640.6" width="2.90" height="281.6" fill="#add1de"/>
<rect x="1454.70" y="666.5" width="3.20" height="255.7" fill="#bf272f"/>
<rect x="1459.26" y="651.4" width="2.90" height="270.8" fill="#add1de"/>
<rect x="1463.67" y="667.6" width="2.90" height="254.6" fill="#adadad"/>
<rect x="1468.08" y="688.5" width="2.90" height="233.7" fill="#adadad"/>
<rect x="1472.49" y="679.8" width="2.90" height="242.4" fill="#adadad"/>
<rect x="1476.90" y="688.2" width="2.90" height="234.0" fill="#adadad"/>
<rect x="1481.31" y="713.9" width="2.90" height="208.3" fill="#adadad"/>
<rect x="1485.72" y="740.8" width="2.90" height="181.4" fill="#adadad"/>
<rect x="1490.13" y="735.2" width="2.90" height="187.0" fill="#adadad"/>
<rect x="1494.54" y="751.4" width="2.90" height="170.8" fill="#adadad"/>
<rect x="1498.95" y="768.6" width="2.90" height="153.6" fill="#adadad"/>
<rect x="1503.36" y="770.5" width="2.90" height="151.7" fill="#adadad"/>
<rect x="1507.77" y="772.4" width="2.90" height="149.8" fill="#adadad"/>
<rect x="1512.18" y="795.7" width="2.90" height="126.5" fill="#adadad"/>
<rect x="1516.59" y="811.4" width="2.90" height="110.8" fill="#adadad"/>
<rect x="1521.00" y="828.5" width="2.90" height="93.7" fill="#adadad"/>
<rect x="1525.41" y="833.7" width="2.90" height="88.5" fill="#adadad"/>
<rect x="1529.82" y="840.2" width="2.90" height="82.0" fill="#adadad"/>
<rect x="1534.23" y="850.1" width="2.90" height="72.1" fill="#adadad"/>
<rect x="1538.64" y="849.6" width="2.90" height="72.6" fill="#adadad"/>
<rect x="1543.05" y="863.2" width="2.90" height="59.0" fill="#adadad"/>
<rect x="1547.46" y="867.9" width="2.90" height="54.3" fill="#adadad"/>
<rect x="1551.87" y="868.8" width="2.90" height="53.4" fill="#adadad"/>
<rect x="1556.28" y="881.9" width="2.90" height="40.3" fill="#adadad"/>
<rect x="1560.69" y="892.1" width="2.90" height="30.1" fill="#adadad"/>
<rect x="1565.10" y="884.1" width="2.90" height="38.1" fill="#adadad"/>
<rect x="1569.51" y="884.5" width="2.90" height="37.7" fill="#adadad"/>
<rect x="1573.92" y="901.8" width="2.90" height="20.4" fill="#adadad"/>
<rect x="1578.33" y="899.6" width="2.90" height="22.6" fill="#adadad"/>
<rect x="1582.74" y="901.3" width="2.90" height="20.9" fill="#adadad"/>
<rect x="1587.15" y="906.5" width="2.90" height="15.7" fill="#adadad"/>
<rect x="1591.56" y="909.8" width="2.90" height="12.4" fill="#adadad"/>
<rect x="1595.97" y="906.9" width="2.90" height="15.3" fill="#adadad"/>
<rect x="1600.38" y="915.4" width="2.90" height="6.8" fill="#adadad"/>
<rect x="1604.79" y="911.7" width="2.90" height="10.5" fill="#adadad"/>
<rect x="1609.20" y="913.4" width="2.90" height="8.8" fill="#adadad"/>
<rect x="1613.61" y="913.4" width="2.90" height="8.8" fill="#adadad"/>
<rect x="1618.02" y="918.2" width="2.90" height="4.0" fill="#adadad"/>
<rect x="1622.43" y="916.2" width="2.90" height="6.0" fill="#adadad"/>
<rect x="1626.84" y="918.6" width="2.90" height="3.6" fill="#adadad"/>
<rect x="1631.25" y="918.6" width="2.90" height="3.6" fill="#adadad"/>
<rect x="1635.66" y="919.5" width="2.90" height="2.7" fill="#adadad"/>
<rect x="1640.07" y="919.0" width="2.90" height="3.2" fill="#adadad"/>
<rect x="1644.48" y="921.0" width="2.90" height="1.2" fill="#adadad"/>
<rect x="1427.0" y="578.3" width="54.1" height="21" fill="#fbf6f7"/>
<text x="1429.5" y="595.8" font-size="19.5" fill="#c9333b" textLength="49.1" lengthAdjust="spacingAndGlyphs">FMO5</text>
<path d="M1454.1000000000001 602.8H1460.7V612.4H1465.4L1457.4 622.9L1449.4 612.4H1454.1000000000001Z" fill="#ee2326" stroke="#ee2326" stroke-width="0.8" stroke-linejoin="round"/>
</svg>
</body></html>
